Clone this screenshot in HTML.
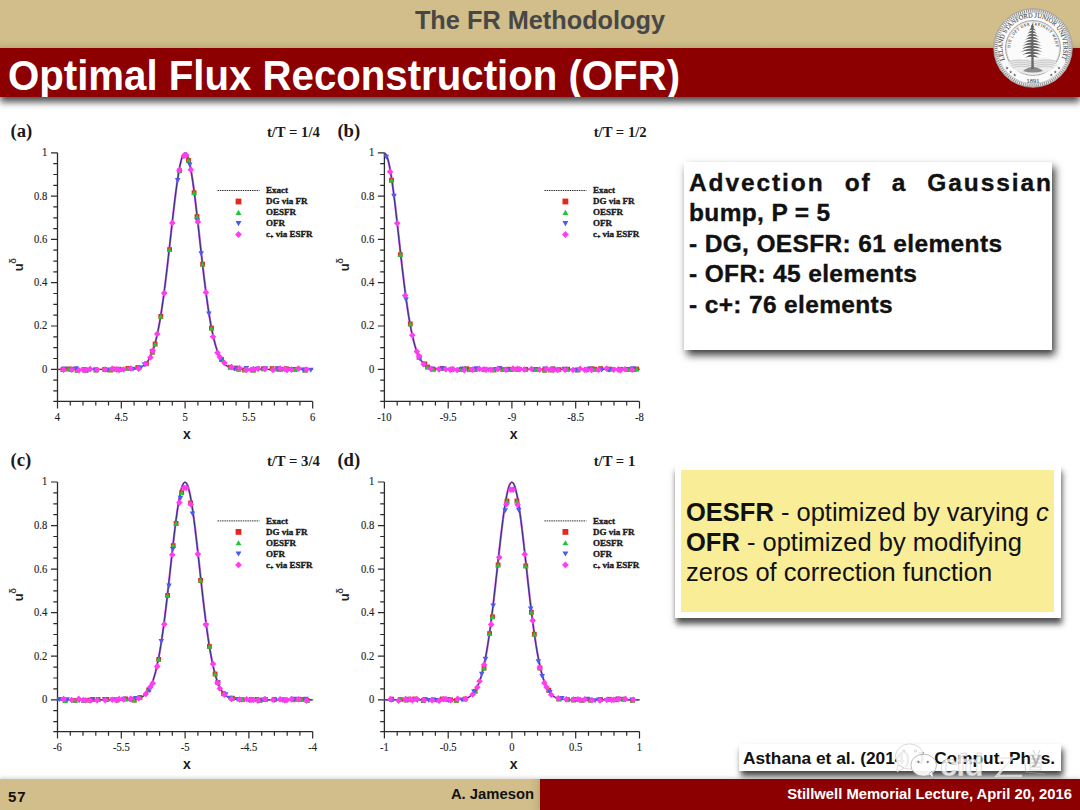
<!DOCTYPE html>
<html><head><meta charset="utf-8">
<style>
html,body{margin:0;padding:0;}
body{width:1080px;height:810px;position:relative;overflow:hidden;background:#fff;font-family:"Liberation Sans", sans-serif;}
.abs{position:absolute;}
#topband{left:0;top:0;width:1080px;height:48px;background:linear-gradient(to bottom,#d1be8a 0px,#d1be8a 40px,#c4b580 48px);}
#toptitle{left:0;top:5.3px;width:1080px;text-align:center;font-weight:bold;font-size:25.3px;color:#474747;line-height:30px;}
#redband{left:0;top:48px;width:1080px;height:49px;background:#8c0001;box-shadow:0 5px 7px rgba(0,0,0,0.7);overflow:hidden;}
#title{left:8px;top:4px;font-weight:bold;font-size:40.2px;color:#fff;line-height:46px;white-space:nowrap;transform:scaleY(1.065);transform-origin:0 7.6px;}
#plots{left:0;top:0;}
.tl{font-family:"Liberation Serif", serif;font-size:12.2px;fill:#1e1e1e;stroke:#1e1e1e;stroke-width:0.15px;}
.xl{font-family:"Liberation Sans", sans-serif;font-weight:bold;font-size:14px;fill:#1a1a1a;}
.yl{font-family:"Liberation Sans", sans-serif;font-weight:bold;font-size:13px;fill:#222;}
.sup{font-size:9.5px;fill:#444;}
.sub{font-size:6px;}
.pl{font-family:"Liberation Serif", serif;font-weight:bold;font-size:18.7px;fill:#1a1a1a;}
.pt{font-family:"Liberation Serif", serif;font-weight:bold;font-size:14.7px;fill:#1a1a1a;}
.lg{font-family:"Liberation Serif", serif;font-weight:bold;font-size:9px;fill:#1a1a1a;stroke:#1a1a1a;stroke-width:0.35px;}
#box1{left:684px;top:162px;width:368px;height:188px;background:#fff;box-shadow:3px 5px 8px rgba(0,0,0,0.78);}
#box1 .t{position:absolute;left:5px;top:5.7px;-webkit-text-stroke:0.35px #111;width:365px;font-weight:bold;font-size:24.5px;letter-spacing:0.35px;line-height:30.5px;color:#111;white-space:nowrap;}
#box2o{left:675px;top:465px;width:386px;height:153px;background:#fff;box-shadow:1px 6px 6px rgba(0,0,0,0.68);}
#box2{left:681px;top:470px;width:373px;height:141.5px;background:#f9ee97;}
#box2 .t{position:absolute;left:5px;top:27px;font-size:25.5px;line-height:30px;color:#111;white-space:nowrap;}
#cite{left:739px;top:744px;width:322px;height:27px;background:#fff;box-shadow:2px 5px 6px rgba(0,0,0,0.75);}
#cite .t{position:absolute;left:4px;top:4px;font-weight:bold;font-size:17.3px;line-height:20px;color:#111;white-space:nowrap;}
#botl{left:0;top:779px;width:540px;height:31px;background:linear-gradient(to right,#d1be8a 0px,#d1be8a 530px,#c2b27e 540px);box-shadow:0 -2px 3px rgba(0,0,0,0.12);}
#botr{left:540px;top:779px;width:540px;height:31px;background:#8c0001;box-shadow:0 -2px 3px rgba(0,0,0,0.12);}
#pgnum{left:8px;top:788px;font-weight:bold;font-size:15px;letter-spacing:0.8px;color:#111;}
#author{left:300px;top:786px;width:234px;text-align:right;font-weight:bold;font-size:14.8px;color:#111;}
#lecture{left:600px;top:786px;width:472px;text-align:right;font-weight:bold;font-size:14.8px;color:#fff;}
</style></head><body>
<div id="topband" class="abs"></div>
<div id="toptitle" class="abs">The FR Methodology</div>
<svg id="plots" class="abs" width="1080" height="810" viewBox="0 0 1080 810">
<path d="M57.5,152.8V401.4H312.7" fill="none" stroke="#2b2b2b" stroke-width="1.3"/>
<path d="M53.3,401.4H57.5M53.3,390.9H57.5M53.3,380.1H57.5M51.0,369.3H57.5M53.3,358.5H57.5M53.3,347.7H57.5M53.3,336.8H57.5M51.0,326.0H57.5M53.3,315.2H57.5M53.3,304.4H57.5M53.3,293.5H57.5M51.0,282.7H57.5M53.3,271.9H57.5M53.3,261.1H57.5M53.3,250.2H57.5M51.0,239.4H57.5M53.3,228.6H57.5M53.3,217.8H57.5M53.3,206.9H57.5M51.0,196.1H57.5M53.3,185.3H57.5M53.3,174.5H57.5M53.3,163.6H57.5M51.0,152.8H57.5M57.5,401.4V408.4M70.3,401.4V405.6M83.0,401.4V405.6M95.8,401.4V405.6M108.5,401.4V405.6M121.3,401.4V408.4M134.1,401.4V405.6M146.8,401.4V405.6M159.6,401.4V405.6M172.3,401.4V405.6M185.1,401.4V408.4M197.9,401.4V405.6M210.6,401.4V405.6M223.4,401.4V405.6M236.1,401.4V405.6M248.9,401.4V408.4M261.7,401.4V405.6M274.4,401.4V405.6M287.2,401.4V405.6M299.9,401.4V405.6M312.7,401.4V408.4" fill="none" stroke="#2b2b2b" stroke-width="1.2"/>
<text transform="translate(47.3,372.7) scale(0.87,1)" text-anchor="end" class="tl">0</text>
<text transform="translate(47.3,329.4) scale(0.87,1)" text-anchor="end" class="tl">0.2</text>
<text transform="translate(47.3,286.1) scale(0.87,1)" text-anchor="end" class="tl">0.4</text>
<text transform="translate(47.3,242.8) scale(0.87,1)" text-anchor="end" class="tl">0.6</text>
<text transform="translate(47.3,199.5) scale(0.87,1)" text-anchor="end" class="tl">0.8</text>
<text transform="translate(47.3,156.2) scale(0.87,1)" text-anchor="end" class="tl">1</text>
<text transform="translate(57.5,421.2) scale(0.87,1)" text-anchor="middle" class="tl">4</text>
<text transform="translate(121.3,421.2) scale(0.87,1)" text-anchor="middle" class="tl">4.5</text>
<text transform="translate(185.1,421.2) scale(0.87,1)" text-anchor="middle" class="tl">5</text>
<text transform="translate(248.9,421.2) scale(0.87,1)" text-anchor="middle" class="tl">5.5</text>
<text transform="translate(312.7,421.2) scale(0.87,1)" text-anchor="middle" class="tl">6</text>
<text x="186.8" y="438.7" text-anchor="middle" class="xl">x</text>
<text transform="translate(22.5,264.7) rotate(-90)" text-anchor="middle" class="yl">u<tspan class="sup" dy="-6.5" dx="-0.5">δ</tspan></text>
<text x="10.5" y="136.8" class="pl">(a)</text>
<text x="266.9" y="136.8" class="pt">t/T = 1/4</text>
<path id="cva" d="M57.50,369.30L58.78,369.30L60.05,369.30L61.33,369.30L62.60,369.30L63.88,369.30L65.16,369.30L66.43,369.30L67.71,369.30L68.98,369.30L70.26,369.30L71.54,369.30L72.81,369.30L74.09,369.30L75.36,369.30L76.64,369.30L77.92,369.30L79.19,369.30L80.47,369.30L81.74,369.30L83.02,369.30L84.30,369.30L85.57,369.30L86.85,369.30L88.12,369.30L89.40,369.30L90.68,369.30L91.95,369.30L93.23,369.30L94.50,369.30L95.78,369.30L97.06,369.30L98.33,369.30L99.61,369.30L100.88,369.30L102.16,369.30L103.44,369.30L104.71,369.30L105.99,369.30L107.26,369.30L108.54,369.30L109.82,369.30L111.09,369.30L112.37,369.30L113.64,369.30L114.92,369.30L116.20,369.30L117.47,369.30L118.75,369.29L120.02,369.29L121.30,369.29L122.58,369.28L123.85,369.27L125.13,369.26L126.40,369.24L127.68,369.21L128.96,369.17L130.23,369.12L131.51,369.06L132.78,368.96L134.06,368.84L135.34,368.68L136.61,368.46L137.89,368.18L139.16,367.82L140.44,367.36L141.72,366.77L142.99,366.02L144.27,365.09L145.54,363.93L146.82,362.51L148.10,360.78L149.37,358.70L150.65,356.20L151.92,353.23L153.20,349.75L154.48,345.69L155.75,341.01L157.03,335.67L158.30,329.62L159.58,322.84L160.86,315.32L162.13,307.06L163.41,298.08L164.68,288.44L165.96,278.20L167.24,267.45L168.51,256.30L169.79,244.89L171.06,233.38L172.34,221.94L173.62,210.77L174.89,200.05L176.17,190.00L177.44,180.80L178.72,172.65L180.00,165.73L181.27,160.17L182.55,156.11L183.82,153.63L185.10,152.80L186.38,153.63L187.65,156.11L188.93,160.17L190.20,165.73L191.48,172.65L192.76,180.80L194.03,190.00L195.31,200.05L196.58,210.77L197.86,221.94L199.14,233.38L200.41,244.89L201.69,256.30L202.96,267.45L204.24,278.20L205.52,288.44L206.79,298.08L208.07,307.06L209.34,315.32L210.62,322.84L211.90,329.62L213.17,335.67L214.45,341.01L215.72,345.69L217.00,349.75L218.28,353.23L219.55,356.20L220.83,358.70L222.10,360.78L223.38,362.51L224.66,363.93L225.93,365.09L227.21,366.02L228.48,366.77L229.76,367.36L231.04,367.82L232.31,368.18L233.59,368.46L234.86,368.68L236.14,368.84L237.42,368.96L238.69,369.06L239.97,369.12L241.24,369.17L242.52,369.21L243.80,369.24L245.07,369.26L246.35,369.27L247.62,369.28L248.90,369.29L250.18,369.29L251.45,369.29L252.73,369.30L254.00,369.30L255.28,369.30L256.56,369.30L257.83,369.30L259.11,369.30L260.38,369.30L261.66,369.30L262.94,369.30L264.21,369.30L265.49,369.30L266.76,369.30L268.04,369.30L269.32,369.30L270.59,369.30L271.87,369.30L273.14,369.30L274.42,369.30L275.70,369.30L276.97,369.30L278.25,369.30L279.52,369.30L280.80,369.30L282.08,369.30L283.35,369.30L284.63,369.30L285.90,369.30L287.18,369.30L288.46,369.30L289.73,369.30L291.01,369.30L292.28,369.30L293.56,369.30L294.84,369.30L296.11,369.30L297.39,369.30L298.66,369.30L299.94,369.30L301.22,369.30L302.49,369.30L303.77,369.30L305.04,369.30L306.32,369.30L307.60,369.30L308.87,369.30L310.15,369.30L311.42,369.30L312.70,369.30" fill="none"/>
<use href="#cva" transform="translate(-0.6,0)" stroke="#ff40f0" stroke-width="1.1" opacity="0.9"/>
<use href="#cva" transform="translate(0.6,0)" stroke="#9040b0" stroke-width="1.0" opacity="0.7"/>
<use href="#cva" transform="translate(-0.3,0.3)" stroke="#4a5cf0" stroke-width="1.0" opacity="0.9"/>
<use href="#cva" stroke="#1a1a2a" stroke-width="0.7"/>
<rect x="60.6" y="367.2" width="4.8" height="4.8" fill="#e8261c"/>
<path d="M60.3,371.9L63.0,367.0L65.7,371.9Z" fill="#22c43a"/>
<rect x="66.2" y="366.6" width="4.8" height="4.8" fill="#e8261c"/>
<path d="M65.9,371.3L68.6,366.4L71.3,371.3Z" fill="#22c43a"/>
<rect x="69.1" y="366.8" width="4.8" height="4.8" fill="#e8261c"/>
<path d="M68.8,371.5L71.5,366.6L74.2,371.5Z" fill="#22c43a"/>
<rect x="74.7" y="367.7" width="4.8" height="4.8" fill="#e8261c"/>
<path d="M74.4,372.4L77.1,367.5L79.8,372.4Z" fill="#22c43a"/>
<rect x="83.6" y="367.7" width="4.8" height="4.8" fill="#e8261c"/>
<path d="M83.3,372.4L86.0,367.5L88.7,372.4Z" fill="#22c43a"/>
<rect x="93.6" y="367.6" width="4.8" height="4.8" fill="#e8261c"/>
<path d="M93.3,372.3L96.0,367.4L98.7,372.3Z" fill="#22c43a"/>
<rect x="102.4" y="367.0" width="4.8" height="4.8" fill="#e8261c"/>
<path d="M102.1,371.7L104.8,366.8L107.5,371.7Z" fill="#22c43a"/>
<rect x="108.1" y="367.6" width="4.8" height="4.8" fill="#e8261c"/>
<path d="M107.8,372.3L110.5,367.4L113.2,372.3Z" fill="#22c43a"/>
<rect x="110.9" y="366.7" width="4.8" height="4.8" fill="#e8261c"/>
<path d="M110.6,371.4L113.3,366.5L116.0,371.4Z" fill="#22c43a"/>
<rect x="116.6" y="366.8" width="4.8" height="4.8" fill="#e8261c"/>
<path d="M116.3,371.5L119.0,366.6L121.7,371.5Z" fill="#22c43a"/>
<rect x="125.4" y="366.0" width="4.8" height="4.8" fill="#e8261c"/>
<path d="M125.1,370.7L127.8,365.8L130.5,370.7Z" fill="#22c43a"/>
<rect x="135.4" y="365.2" width="4.8" height="4.8" fill="#e8261c"/>
<path d="M135.1,369.9L137.8,365.0L140.5,369.9Z" fill="#22c43a"/>
<rect x="144.2" y="361.3" width="4.8" height="4.8" fill="#e8261c"/>
<path d="M143.9,366.0L146.6,361.1L149.3,366.0Z" fill="#22c43a"/>
<rect x="149.9" y="349.8" width="4.8" height="4.8" fill="#e8261c"/>
<path d="M149.6,354.5L152.3,349.6L155.0,354.5Z" fill="#22c43a"/>
<rect x="152.7" y="341.6" width="4.8" height="4.8" fill="#e8261c"/>
<path d="M152.4,346.3L155.1,341.4L157.8,346.3Z" fill="#22c43a"/>
<rect x="158.4" y="314.0" width="4.8" height="4.8" fill="#e8261c"/>
<path d="M158.1,318.7L160.8,313.8L163.5,318.7Z" fill="#22c43a"/>
<rect x="167.2" y="247.2" width="4.8" height="4.8" fill="#e8261c"/>
<path d="M166.9,251.9L169.6,247.0L172.3,251.9Z" fill="#22c43a"/>
<rect x="177.2" y="168.4" width="4.8" height="4.8" fill="#e8261c"/>
<path d="M176.9,173.1L179.6,168.2L182.3,173.1Z" fill="#22c43a"/>
<rect x="186.1" y="158.0" width="4.8" height="4.8" fill="#e8261c"/>
<path d="M185.8,162.7L188.5,157.8L191.2,162.7Z" fill="#22c43a"/>
<rect x="191.7" y="190.3" width="4.8" height="4.8" fill="#e8261c"/>
<path d="M191.4,195.0L194.1,190.1L196.8,195.0Z" fill="#22c43a"/>
<rect x="194.6" y="214.2" width="4.8" height="4.8" fill="#e8261c"/>
<path d="M194.3,218.9L197.0,214.0L199.7,218.9Z" fill="#22c43a"/>
<rect x="200.2" y="261.8" width="4.8" height="4.8" fill="#e8261c"/>
<path d="M199.9,266.5L202.6,261.6L205.3,266.5Z" fill="#22c43a"/>
<rect x="209.1" y="325.7" width="4.8" height="4.8" fill="#e8261c"/>
<path d="M208.8,330.4L211.5,325.5L214.2,330.4Z" fill="#22c43a"/>
<rect x="219.1" y="357.1" width="4.8" height="4.8" fill="#e8261c"/>
<path d="M218.8,361.8L221.5,356.9L224.2,361.8Z" fill="#22c43a"/>
<rect x="227.9" y="364.8" width="4.8" height="4.8" fill="#e8261c"/>
<path d="M227.6,369.5L230.3,364.6L233.0,369.5Z" fill="#22c43a"/>
<rect x="233.6" y="365.6" width="4.8" height="4.8" fill="#e8261c"/>
<path d="M233.3,370.3L236.0,365.4L238.7,370.3Z" fill="#22c43a"/>
<rect x="236.4" y="366.8" width="4.8" height="4.8" fill="#e8261c"/>
<path d="M236.1,371.5L238.8,366.6L241.5,371.5Z" fill="#22c43a"/>
<rect x="242.1" y="367.5" width="4.8" height="4.8" fill="#e8261c"/>
<path d="M241.8,372.2L244.5,367.3L247.2,372.2Z" fill="#22c43a"/>
<rect x="250.9" y="367.7" width="4.8" height="4.8" fill="#e8261c"/>
<path d="M250.6,372.4L253.3,367.5L256.0,372.4Z" fill="#22c43a"/>
<rect x="260.9" y="366.4" width="4.8" height="4.8" fill="#e8261c"/>
<path d="M260.6,371.1L263.3,366.2L266.0,371.1Z" fill="#22c43a"/>
<rect x="269.7" y="366.2" width="4.8" height="4.8" fill="#e8261c"/>
<path d="M269.4,370.9L272.1,366.0L274.8,370.9Z" fill="#22c43a"/>
<rect x="275.4" y="366.6" width="4.8" height="4.8" fill="#e8261c"/>
<path d="M275.1,371.3L277.8,366.4L280.5,371.3Z" fill="#22c43a"/>
<rect x="278.2" y="366.8" width="4.8" height="4.8" fill="#e8261c"/>
<path d="M277.9,371.5L280.6,366.6L283.3,371.5Z" fill="#22c43a"/>
<rect x="283.9" y="366.3" width="4.8" height="4.8" fill="#e8261c"/>
<path d="M283.6,371.0L286.3,366.1L289.0,371.0Z" fill="#22c43a"/>
<rect x="292.8" y="366.9" width="4.8" height="4.8" fill="#e8261c"/>
<path d="M292.5,371.6L295.2,366.7L297.9,371.6Z" fill="#22c43a"/>
<rect x="302.7" y="367.7" width="4.8" height="4.8" fill="#e8261c"/>
<path d="M302.4,372.4L305.1,367.5L307.8,372.4Z" fill="#22c43a"/>
<path d="M61.5,366.6L67.1,366.6L64.3,371.6Z" fill="#4a5cf0"/>
<path d="M73.4,366.3L79.0,366.3L76.2,371.3Z" fill="#4a5cf0"/>
<path d="M81.1,367.1L86.7,367.1L83.9,372.1Z" fill="#4a5cf0"/>
<path d="M85.0,367.7L90.6,367.7L87.8,372.7Z" fill="#4a5cf0"/>
<path d="M92.7,367.5L98.3,367.5L95.5,372.5Z" fill="#4a5cf0"/>
<path d="M104.6,367.7L110.2,367.7L107.4,372.7Z" fill="#4a5cf0"/>
<path d="M118.2,367.5L123.8,367.5L121.0,372.5Z" fill="#4a5cf0"/>
<path d="M130.2,366.7L135.8,366.7L133.0,371.7Z" fill="#4a5cf0"/>
<path d="M137.9,365.6L143.5,365.6L140.7,370.6Z" fill="#4a5cf0"/>
<path d="M141.7,362.3L147.3,362.3L144.5,367.3Z" fill="#4a5cf0"/>
<path d="M149.4,349.2L155.0,349.2L152.2,354.2Z" fill="#4a5cf0"/>
<path d="M161.4,291.7L167.0,291.7L164.2,296.7Z" fill="#4a5cf0"/>
<path d="M174.9,178.0L180.5,178.0L177.7,183.0Z" fill="#4a5cf0"/>
<path d="M186.9,162.4L192.5,162.4L189.7,167.4Z" fill="#4a5cf0"/>
<path d="M194.6,218.4L200.2,218.4L197.4,223.4Z" fill="#4a5cf0"/>
<path d="M198.4,251.2L204.0,251.2L201.2,256.2Z" fill="#4a5cf0"/>
<path d="M206.1,311.4L211.7,311.4L208.9,316.4Z" fill="#4a5cf0"/>
<path d="M218.1,357.4L223.7,357.4L220.9,362.4Z" fill="#4a5cf0"/>
<path d="M231.6,366.4L237.2,366.4L234.4,371.4Z" fill="#4a5cf0"/>
<path d="M243.6,366.1L249.2,366.1L246.4,371.1Z" fill="#4a5cf0"/>
<path d="M251.3,366.9L256.9,366.9L254.1,371.9Z" fill="#4a5cf0"/>
<path d="M255.1,366.6L260.7,366.6L257.9,371.6Z" fill="#4a5cf0"/>
<path d="M262.8,366.2L268.4,366.2L265.6,371.2Z" fill="#4a5cf0"/>
<path d="M274.8,366.3L280.4,366.3L277.6,371.3Z" fill="#4a5cf0"/>
<path d="M288.3,367.1L293.9,367.1L291.1,372.1Z" fill="#4a5cf0"/>
<path d="M300.3,367.6L305.9,367.6L303.1,372.6Z" fill="#4a5cf0"/>
<path d="M308.0,367.7L313.6,367.7L310.8,372.7Z" fill="#4a5cf0"/>
<path d="M63.6,366.5L66.9,369.8L63.6,373.1L60.3,369.8Z" fill="#ff3cf0"/>
<path d="M71.6,366.3L74.9,369.6L71.6,372.9L68.3,369.6Z" fill="#ff3cf0"/>
<path d="M78.7,366.9L82.0,370.2L78.7,373.5L75.4,370.2Z" fill="#ff3cf0"/>
<path d="M83.2,366.7L86.5,370.0L83.2,373.3L79.9,370.0Z" fill="#ff3cf0"/>
<path d="M85.5,366.8L88.8,370.1L85.5,373.4L82.2,370.1Z" fill="#ff3cf0"/>
<path d="M90.1,365.8L93.4,369.1L90.1,372.4L86.8,369.1Z" fill="#ff3cf0"/>
<path d="M97.1,366.4L100.4,369.7L97.1,373.0L93.8,369.7Z" fill="#ff3cf0"/>
<path d="M105.2,366.2L108.5,369.5L105.2,372.8L101.9,369.5Z" fill="#ff3cf0"/>
<path d="M112.3,365.4L115.6,368.7L112.3,372.0L109.0,368.7Z" fill="#ff3cf0"/>
<path d="M116.8,366.1L120.1,369.4L116.8,372.7L113.5,369.4Z" fill="#ff3cf0"/>
<path d="M119.1,366.7L122.4,370.0L119.1,373.3L115.8,370.0Z" fill="#ff3cf0"/>
<path d="M123.6,366.2L126.9,369.5L123.6,372.8L120.3,369.5Z" fill="#ff3cf0"/>
<path d="M130.7,365.2L134.0,368.5L130.7,371.8L127.4,368.5Z" fill="#ff3cf0"/>
<path d="M138.7,365.4L142.0,368.7L138.7,372.0L135.4,368.7Z" fill="#ff3cf0"/>
<path d="M145.8,360.5L149.1,363.8L145.8,367.1L142.5,363.8Z" fill="#ff3cf0"/>
<path d="M150.4,354.1L153.7,357.4L150.4,360.7L147.1,357.4Z" fill="#ff3cf0"/>
<path d="M152.7,347.3L156.0,350.6L152.7,353.9L149.4,350.6Z" fill="#ff3cf0"/>
<path d="M157.2,330.7L160.5,334.0L157.2,337.3L153.9,334.0Z" fill="#ff3cf0"/>
<path d="M164.3,289.9L167.6,293.2L164.3,296.5L161.0,293.2Z" fill="#ff3cf0"/>
<path d="M172.3,219.6L175.6,222.9L172.3,226.2L169.0,222.9Z" fill="#ff3cf0"/>
<path d="M179.4,167.0L182.7,170.3L179.4,173.6L176.1,170.3Z" fill="#ff3cf0"/>
<path d="M184.0,152.6L187.3,155.9L184.0,159.2L180.7,155.9Z" fill="#ff3cf0"/>
<path d="M186.2,151.7L189.5,155.0L186.2,158.3L182.9,155.0Z" fill="#ff3cf0"/>
<path d="M190.8,166.4L194.1,169.7L190.8,173.0L187.5,169.7Z" fill="#ff3cf0"/>
<path d="M197.9,218.6L201.2,221.9L197.9,225.2L194.6,221.9Z" fill="#ff3cf0"/>
<path d="M205.9,289.2L209.2,292.5L205.9,295.8L202.6,292.5Z" fill="#ff3cf0"/>
<path d="M213.0,333.5L216.3,336.8L213.0,340.1L209.7,336.8Z" fill="#ff3cf0"/>
<path d="M217.5,349.4L220.8,352.7L217.5,356.0L214.2,352.7Z" fill="#ff3cf0"/>
<path d="M219.8,353.8L223.1,357.1L219.8,360.4L216.5,357.1Z" fill="#ff3cf0"/>
<path d="M224.4,359.6L227.7,362.9L224.4,366.2L221.1,362.9Z" fill="#ff3cf0"/>
<path d="M231.5,363.8L234.8,367.1L231.5,370.4L228.2,367.1Z" fill="#ff3cf0"/>
<path d="M239.5,365.0L242.8,368.3L239.5,371.6L236.2,368.3Z" fill="#ff3cf0"/>
<path d="M246.6,366.5L249.9,369.8L246.6,373.1L243.3,369.8Z" fill="#ff3cf0"/>
<path d="M251.1,366.5L254.4,369.8L251.1,373.1L247.8,369.8Z" fill="#ff3cf0"/>
<path d="M253.4,365.8L256.7,369.1L253.4,372.4L250.1,369.1Z" fill="#ff3cf0"/>
<path d="M257.9,365.4L261.2,368.7L257.9,372.0L254.6,368.7Z" fill="#ff3cf0"/>
<path d="M265.0,365.7L268.3,369.0L265.0,372.3L261.7,369.0Z" fill="#ff3cf0"/>
<path d="M273.1,366.7L276.4,370.0L273.1,373.3L269.8,370.0Z" fill="#ff3cf0"/>
<path d="M280.1,365.3L283.4,368.6L280.1,371.9L276.8,368.6Z" fill="#ff3cf0"/>
<path d="M284.7,365.6L288.0,368.9L284.7,372.2L281.4,368.9Z" fill="#ff3cf0"/>
<path d="M287.0,366.6L290.3,369.9L287.0,373.2L283.7,369.9Z" fill="#ff3cf0"/>
<path d="M291.5,366.3L294.8,369.6L291.5,372.9L288.2,369.6Z" fill="#ff3cf0"/>
<path d="M298.6,365.2L301.9,368.5L298.6,371.8L295.3,368.5Z" fill="#ff3cf0"/>
<path d="M306.6,366.2L309.9,369.5L306.6,372.8L303.3,369.5Z" fill="#ff3cf0"/>
<line x1="217.5" y1="190.5" x2="259.5" y2="190.5" stroke="#333" stroke-width="1" stroke-dasharray="1.5,0.8"/>
<text x="266.0" y="193.3" class="lg">Exact</text>
<text x="266.0" y="204.3" class="lg">DG via FR</text>
<text x="266.0" y="215.3" class="lg">OESFR</text>
<text x="266.0" y="226.3" class="lg">OFR</text>
<text x="266.0" y="237.3" class="lg">c<tspan class="sub" dy="2">+</tspan><tspan dy="-2"> via ESFR</tspan></text>
<rect x="235.6" y="198.6" width="5.8" height="5.8" fill="#e8261c"/>
<path d="M235.5,214.9L238.5,209.8L241.5,214.9Z" fill="#22c43a"/>
<path d="M235.5,221.1L241.5,221.1L238.5,226.2Z" fill="#4a5cf0"/>
<path d="M238.5,231.1L241.9,234.5L238.5,237.9L235.1,234.5Z" fill="#ff3cf0"/>
<path d="M384.4,152.8V401.4H639.5" fill="none" stroke="#2b2b2b" stroke-width="1.3"/>
<path d="M380.2,401.4H384.4M380.2,390.9H384.4M380.2,380.1H384.4M377.9,369.3H384.4M380.2,358.5H384.4M380.2,347.7H384.4M380.2,336.8H384.4M377.9,326.0H384.4M380.2,315.2H384.4M380.2,304.4H384.4M380.2,293.5H384.4M377.9,282.7H384.4M380.2,271.9H384.4M380.2,261.1H384.4M380.2,250.2H384.4M377.9,239.4H384.4M380.2,228.6H384.4M380.2,217.8H384.4M380.2,206.9H384.4M377.9,196.1H384.4M380.2,185.3H384.4M380.2,174.5H384.4M380.2,163.6H384.4M377.9,152.8H384.4M384.4,401.4V408.4M397.2,401.4V405.6M409.9,401.4V405.6M422.7,401.4V405.6M435.4,401.4V405.6M448.2,401.4V408.4M460.9,401.4V405.6M473.7,401.4V405.6M486.4,401.4V405.6M499.2,401.4V405.6M511.9,401.4V408.4M524.7,401.4V405.6M537.5,401.4V405.6M550.2,401.4V405.6M563.0,401.4V405.6M575.7,401.4V408.4M588.5,401.4V405.6M601.2,401.4V405.6M614.0,401.4V405.6M626.7,401.4V405.6M639.5,401.4V408.4" fill="none" stroke="#2b2b2b" stroke-width="1.2"/>
<text transform="translate(374.2,372.7) scale(0.87,1)" text-anchor="end" class="tl">0</text>
<text transform="translate(374.2,329.4) scale(0.87,1)" text-anchor="end" class="tl">0.2</text>
<text transform="translate(374.2,286.1) scale(0.87,1)" text-anchor="end" class="tl">0.4</text>
<text transform="translate(374.2,242.8) scale(0.87,1)" text-anchor="end" class="tl">0.6</text>
<text transform="translate(374.2,199.5) scale(0.87,1)" text-anchor="end" class="tl">0.8</text>
<text transform="translate(374.2,156.2) scale(0.87,1)" text-anchor="end" class="tl">1</text>
<text transform="translate(384.4,421.2) scale(0.87,1)" text-anchor="middle" class="tl">-10</text>
<text transform="translate(448.2,421.2) scale(0.87,1)" text-anchor="middle" class="tl">-9.5</text>
<text transform="translate(511.9,421.2) scale(0.87,1)" text-anchor="middle" class="tl">-9</text>
<text transform="translate(575.7,421.2) scale(0.87,1)" text-anchor="middle" class="tl">-8.5</text>
<text transform="translate(639.5,421.2) scale(0.87,1)" text-anchor="middle" class="tl">-8</text>
<text x="513.6" y="438.7" text-anchor="middle" class="xl">x</text>
<text transform="translate(349.4,264.7) rotate(-90)" text-anchor="middle" class="yl">u<tspan class="sup" dy="-6.5" dx="-0.5">δ</tspan></text>
<text x="337.4" y="136.8" class="pl">(b)</text>
<text x="593.7" y="136.8" class="pt">t/T = 1/2</text>
<path id="cvb" d="M384.40,152.80L385.68,153.63L386.95,156.11L388.23,160.17L389.50,165.73L390.78,172.65L392.05,180.80L393.33,190.00L394.60,200.05L395.88,210.77L397.15,221.94L398.43,233.38L399.71,244.89L400.98,256.30L402.26,267.45L403.53,278.20L404.81,288.44L406.08,298.08L407.36,307.06L408.63,315.32L409.91,322.84L411.19,329.62L412.46,335.67L413.74,341.01L415.01,345.69L416.29,349.75L417.56,353.23L418.84,356.20L420.11,358.70L421.39,360.78L422.67,362.51L423.94,363.93L425.22,365.09L426.49,366.02L427.77,366.77L429.04,367.36L430.32,367.82L431.59,368.18L432.87,368.46L434.14,368.68L435.42,368.84L436.70,368.96L437.97,369.06L439.25,369.12L440.52,369.17L441.80,369.21L443.07,369.24L444.35,369.26L445.62,369.27L446.90,369.28L448.17,369.29L449.45,369.29L450.73,369.29L452.00,369.30L453.28,369.30L454.55,369.30L455.83,369.30L457.10,369.30L458.38,369.30L459.65,369.30L460.93,369.30L462.21,369.30L463.48,369.30L464.76,369.30L466.03,369.30L467.31,369.30L468.58,369.30L469.86,369.30L471.13,369.30L472.41,369.30L473.68,369.30L474.96,369.30L476.24,369.30L477.51,369.30L478.79,369.30L480.06,369.30L481.34,369.30L482.61,369.30L483.89,369.30L485.16,369.30L486.44,369.30L487.72,369.30L488.99,369.30L490.27,369.30L491.54,369.30L492.82,369.30L494.09,369.30L495.37,369.30L496.64,369.30L497.92,369.30L499.20,369.30L500.47,369.30L501.75,369.30L503.02,369.30L504.30,369.30L505.57,369.30L506.85,369.30L508.12,369.30L509.40,369.30L510.67,369.30L511.95,369.30L513.23,369.30L514.50,369.30L515.78,369.30L517.05,369.30L518.33,369.30L519.60,369.30L520.88,369.30L522.15,369.30L523.43,369.30L524.70,369.30L525.98,369.30L527.26,369.30L528.53,369.30L529.81,369.30L531.08,369.30L532.36,369.30L533.63,369.30L534.91,369.30L536.18,369.30L537.46,369.30L538.74,369.30L540.01,369.30L541.29,369.30L542.56,369.30L543.84,369.30L545.11,369.30L546.39,369.30L547.66,369.30L548.94,369.30L550.22,369.30L551.49,369.30L552.77,369.30L554.04,369.30L555.32,369.30L556.59,369.30L557.87,369.30L559.14,369.30L560.42,369.30L561.69,369.30L562.97,369.30L564.25,369.30L565.52,369.30L566.80,369.30L568.07,369.30L569.35,369.30L570.62,369.30L571.90,369.30L573.17,369.30L574.45,369.30L575.73,369.30L577.00,369.30L578.28,369.30L579.55,369.30L580.83,369.30L582.10,369.30L583.38,369.30L584.65,369.30L585.93,369.30L587.20,369.30L588.48,369.30L589.76,369.30L591.03,369.30L592.31,369.30L593.58,369.30L594.86,369.30L596.13,369.30L597.41,369.30L598.68,369.30L599.96,369.30L601.23,369.30L602.51,369.30L603.79,369.30L605.06,369.30L606.34,369.30L607.61,369.30L608.89,369.30L610.16,369.30L611.44,369.30L612.71,369.30L613.99,369.30L615.27,369.30L616.54,369.30L617.82,369.30L619.09,369.30L620.37,369.30L621.64,369.30L622.92,369.30L624.19,369.30L625.47,369.30L626.75,369.30L628.02,369.30L629.30,369.30L630.57,369.30L631.85,369.30L633.12,369.30L634.40,369.30L635.67,369.30L636.95,369.30L638.22,369.30L639.50,369.30" fill="none"/>
<use href="#cvb" transform="translate(-0.6,0)" stroke="#ff40f0" stroke-width="1.1" opacity="0.9"/>
<use href="#cvb" transform="translate(0.6,0)" stroke="#9040b0" stroke-width="1.0" opacity="0.7"/>
<use href="#cvb" transform="translate(-0.3,0.3)" stroke="#4a5cf0" stroke-width="1.0" opacity="0.9"/>
<use href="#cvb" stroke="#1a1a2a" stroke-width="0.7"/>
<rect x="389.1" y="177.8" width="4.8" height="4.8" fill="#e8261c"/>
<path d="M388.8,182.5L391.5,177.6L394.2,182.5Z" fill="#22c43a"/>
<rect x="397.9" y="252.3" width="4.8" height="4.8" fill="#e8261c"/>
<path d="M397.6,257.0L400.3,252.1L403.0,257.0Z" fill="#22c43a"/>
<rect x="407.9" y="321.5" width="4.8" height="4.8" fill="#e8261c"/>
<path d="M407.6,326.2L410.3,321.3L413.0,326.2Z" fill="#22c43a"/>
<rect x="416.7" y="354.8" width="4.8" height="4.8" fill="#e8261c"/>
<path d="M416.4,359.5L419.1,354.6L421.8,359.5Z" fill="#22c43a"/>
<rect x="422.4" y="361.5" width="4.8" height="4.8" fill="#e8261c"/>
<path d="M422.1,366.2L424.8,361.3L427.5,366.2Z" fill="#22c43a"/>
<rect x="425.2" y="364.6" width="4.8" height="4.8" fill="#e8261c"/>
<path d="M424.9,369.3L427.6,364.4L430.3,369.3Z" fill="#22c43a"/>
<rect x="430.9" y="366.8" width="4.8" height="4.8" fill="#e8261c"/>
<path d="M430.6,371.5L433.3,366.6L436.0,371.5Z" fill="#22c43a"/>
<rect x="439.7" y="366.0" width="4.8" height="4.8" fill="#e8261c"/>
<path d="M439.4,370.7L442.1,365.8L444.8,370.7Z" fill="#22c43a"/>
<rect x="449.7" y="366.8" width="4.8" height="4.8" fill="#e8261c"/>
<path d="M449.4,371.5L452.1,366.6L454.8,371.5Z" fill="#22c43a"/>
<rect x="458.6" y="367.0" width="4.8" height="4.8" fill="#e8261c"/>
<path d="M458.3,371.7L461.0,366.8L463.7,371.7Z" fill="#22c43a"/>
<rect x="464.2" y="366.3" width="4.8" height="4.8" fill="#e8261c"/>
<path d="M463.9,371.0L466.6,366.1L469.3,371.0Z" fill="#22c43a"/>
<rect x="467.1" y="367.3" width="4.8" height="4.8" fill="#e8261c"/>
<path d="M466.8,372.0L469.5,367.1L472.2,372.0Z" fill="#22c43a"/>
<rect x="472.7" y="367.3" width="4.8" height="4.8" fill="#e8261c"/>
<path d="M472.4,372.0L475.1,367.1L477.8,372.0Z" fill="#22c43a"/>
<rect x="481.6" y="367.3" width="4.8" height="4.8" fill="#e8261c"/>
<path d="M481.3,372.0L484.0,367.1L486.7,372.0Z" fill="#22c43a"/>
<rect x="491.5" y="367.5" width="4.8" height="4.8" fill="#e8261c"/>
<path d="M491.2,372.2L493.9,367.3L496.6,372.2Z" fill="#22c43a"/>
<rect x="500.4" y="367.2" width="4.8" height="4.8" fill="#e8261c"/>
<path d="M500.1,371.9L502.8,367.0L505.5,371.9Z" fill="#22c43a"/>
<rect x="506.0" y="366.8" width="4.8" height="4.8" fill="#e8261c"/>
<path d="M505.7,371.5L508.4,366.6L511.1,371.5Z" fill="#22c43a"/>
<rect x="508.9" y="367.0" width="4.8" height="4.8" fill="#e8261c"/>
<path d="M508.6,371.7L511.3,366.8L514.0,371.7Z" fill="#22c43a"/>
<rect x="514.5" y="366.9" width="4.8" height="4.8" fill="#e8261c"/>
<path d="M514.2,371.6L516.9,366.7L519.6,371.6Z" fill="#22c43a"/>
<rect x="523.4" y="366.9" width="4.8" height="4.8" fill="#e8261c"/>
<path d="M523.1,371.6L525.8,366.7L528.5,371.6Z" fill="#22c43a"/>
<rect x="533.4" y="367.0" width="4.8" height="4.8" fill="#e8261c"/>
<path d="M533.1,371.7L535.8,366.8L538.5,371.7Z" fill="#22c43a"/>
<rect x="542.2" y="367.8" width="4.8" height="4.8" fill="#e8261c"/>
<path d="M541.9,372.5L544.6,367.6L547.3,372.5Z" fill="#22c43a"/>
<rect x="547.9" y="367.5" width="4.8" height="4.8" fill="#e8261c"/>
<path d="M547.6,372.2L550.3,367.3L553.0,372.2Z" fill="#22c43a"/>
<rect x="550.7" y="366.5" width="4.8" height="4.8" fill="#e8261c"/>
<path d="M550.4,371.2L553.1,366.3L555.8,371.2Z" fill="#22c43a"/>
<rect x="556.4" y="367.2" width="4.8" height="4.8" fill="#e8261c"/>
<path d="M556.1,371.9L558.8,367.0L561.5,371.9Z" fill="#22c43a"/>
<rect x="565.2" y="366.8" width="4.8" height="4.8" fill="#e8261c"/>
<path d="M564.9,371.5L567.6,366.6L570.3,371.5Z" fill="#22c43a"/>
<rect x="575.2" y="367.6" width="4.8" height="4.8" fill="#e8261c"/>
<path d="M574.9,372.3L577.6,367.4L580.3,372.3Z" fill="#22c43a"/>
<rect x="584.0" y="367.3" width="4.8" height="4.8" fill="#e8261c"/>
<path d="M583.7,372.0L586.4,367.1L589.1,372.0Z" fill="#22c43a"/>
<rect x="589.7" y="366.4" width="4.8" height="4.8" fill="#e8261c"/>
<path d="M589.4,371.1L592.1,366.2L594.8,371.1Z" fill="#22c43a"/>
<rect x="592.5" y="366.8" width="4.8" height="4.8" fill="#e8261c"/>
<path d="M592.2,371.5L594.9,366.6L597.6,371.5Z" fill="#22c43a"/>
<rect x="598.2" y="366.2" width="4.8" height="4.8" fill="#e8261c"/>
<path d="M597.9,370.9L600.6,366.0L603.3,370.9Z" fill="#22c43a"/>
<rect x="607.0" y="366.7" width="4.8" height="4.8" fill="#e8261c"/>
<path d="M606.7,371.4L609.4,366.5L612.1,371.4Z" fill="#22c43a"/>
<rect x="617.0" y="366.9" width="4.8" height="4.8" fill="#e8261c"/>
<path d="M616.7,371.6L619.4,366.7L622.1,371.6Z" fill="#22c43a"/>
<rect x="625.8" y="367.0" width="4.8" height="4.8" fill="#e8261c"/>
<path d="M625.5,371.7L628.2,366.8L630.9,371.7Z" fill="#22c43a"/>
<rect x="631.5" y="366.9" width="4.8" height="4.8" fill="#e8261c"/>
<path d="M631.2,371.6L633.9,366.7L636.6,371.6Z" fill="#22c43a"/>
<rect x="634.3" y="366.6" width="4.8" height="4.8" fill="#e8261c"/>
<path d="M634.0,371.3L636.7,366.4L639.4,371.3Z" fill="#22c43a"/>
<path d="M383.5,154.8L389.1,154.8L386.3,159.8Z" fill="#4a5cf0"/>
<path d="M391.2,193.8L396.8,193.8L394.0,198.8Z" fill="#4a5cf0"/>
<path d="M403.2,297.2L408.8,297.2L406.0,302.2Z" fill="#4a5cf0"/>
<path d="M416.7,356.1L422.3,356.1L419.5,361.1Z" fill="#4a5cf0"/>
<path d="M428.7,366.5L434.3,366.5L431.5,371.5Z" fill="#4a5cf0"/>
<path d="M436.4,367.5L442.0,367.5L439.2,372.5Z" fill="#4a5cf0"/>
<path d="M440.2,366.3L445.8,366.3L443.0,371.3Z" fill="#4a5cf0"/>
<path d="M447.9,367.5L453.5,367.5L450.7,372.5Z" fill="#4a5cf0"/>
<path d="M459.9,366.6L465.5,366.6L462.7,371.6Z" fill="#4a5cf0"/>
<path d="M473.4,366.2L479.0,366.2L476.2,371.2Z" fill="#4a5cf0"/>
<path d="M485.4,367.4L491.0,367.4L488.2,372.4Z" fill="#4a5cf0"/>
<path d="M493.1,367.1L498.7,367.1L495.9,372.1Z" fill="#4a5cf0"/>
<path d="M496.9,366.1L502.5,366.1L499.7,371.1Z" fill="#4a5cf0"/>
<path d="M504.6,367.5L510.2,367.5L507.4,372.5Z" fill="#4a5cf0"/>
<path d="M516.6,366.9L522.2,366.9L519.4,371.9Z" fill="#4a5cf0"/>
<path d="M530.1,367.4L535.7,367.4L532.9,372.4Z" fill="#4a5cf0"/>
<path d="M542.1,366.5L547.7,366.5L544.9,371.5Z" fill="#4a5cf0"/>
<path d="M549.8,366.8L555.4,366.8L552.6,371.8Z" fill="#4a5cf0"/>
<path d="M553.6,367.7L559.2,367.7L556.4,372.7Z" fill="#4a5cf0"/>
<path d="M561.3,366.7L566.9,366.7L564.1,371.7Z" fill="#4a5cf0"/>
<path d="M573.2,367.7L578.8,367.7L576.0,372.7Z" fill="#4a5cf0"/>
<path d="M586.8,366.4L592.4,366.4L589.6,371.4Z" fill="#4a5cf0"/>
<path d="M598.8,367.6L604.4,367.6L601.6,372.6Z" fill="#4a5cf0"/>
<path d="M606.4,367.7L612.0,367.7L609.2,372.7Z" fill="#4a5cf0"/>
<path d="M610.3,367.3L615.9,367.3L613.1,372.3Z" fill="#4a5cf0"/>
<path d="M618.0,367.0L623.6,367.0L620.8,372.0Z" fill="#4a5cf0"/>
<path d="M629.9,366.3L635.5,366.3L632.7,371.3Z" fill="#4a5cf0"/>
<path d="M390.1,168.4L393.4,171.7L390.1,175.0L386.8,171.7Z" fill="#ff3cf0"/>
<path d="M397.2,220.0L400.5,223.3L397.2,226.6L393.9,223.3Z" fill="#ff3cf0"/>
<path d="M405.2,292.2L408.5,295.5L405.2,298.8L401.9,295.5Z" fill="#ff3cf0"/>
<path d="M412.3,332.0L415.6,335.3L412.3,338.6L409.0,335.3Z" fill="#ff3cf0"/>
<path d="M416.8,348.3L420.1,351.6L416.8,354.9L413.5,351.6Z" fill="#ff3cf0"/>
<path d="M419.1,353.0L422.4,356.3L419.1,359.6L415.8,356.3Z" fill="#ff3cf0"/>
<path d="M423.7,360.9L427.0,364.2L423.7,367.5L420.4,364.2Z" fill="#ff3cf0"/>
<path d="M430.7,365.4L434.0,368.7L430.7,372.0L427.4,368.7Z" fill="#ff3cf0"/>
<path d="M438.8,365.9L442.1,369.2L438.8,372.5L435.5,369.2Z" fill="#ff3cf0"/>
<path d="M445.8,365.9L449.1,369.2L445.8,372.5L442.5,369.2Z" fill="#ff3cf0"/>
<path d="M450.4,366.4L453.7,369.7L450.4,373.0L447.1,369.7Z" fill="#ff3cf0"/>
<path d="M452.7,365.9L456.0,369.2L452.7,372.5L449.4,369.2Z" fill="#ff3cf0"/>
<path d="M457.2,366.7L460.5,370.0L457.2,373.3L453.9,370.0Z" fill="#ff3cf0"/>
<path d="M464.3,366.8L467.6,370.1L464.3,373.4L461.0,370.1Z" fill="#ff3cf0"/>
<path d="M472.3,366.3L475.6,369.6L472.3,372.9L469.0,369.6Z" fill="#ff3cf0"/>
<path d="M479.4,365.6L482.7,368.9L479.4,372.2L476.1,368.9Z" fill="#ff3cf0"/>
<path d="M484.0,366.0L487.3,369.3L484.0,372.6L480.7,369.3Z" fill="#ff3cf0"/>
<path d="M486.2,366.3L489.5,369.6L486.2,372.9L482.9,369.6Z" fill="#ff3cf0"/>
<path d="M490.8,366.4L494.1,369.7L490.8,373.0L487.5,369.7Z" fill="#ff3cf0"/>
<path d="M497.9,365.6L501.2,368.9L497.9,372.2L494.6,368.9Z" fill="#ff3cf0"/>
<path d="M505.9,366.5L509.2,369.8L505.9,373.1L502.6,369.8Z" fill="#ff3cf0"/>
<path d="M513.0,365.2L516.3,368.5L513.0,371.8L509.7,368.5Z" fill="#ff3cf0"/>
<path d="M517.5,365.4L520.8,368.7L517.5,372.0L514.2,368.7Z" fill="#ff3cf0"/>
<path d="M519.8,366.0L523.1,369.3L519.8,372.6L516.5,369.3Z" fill="#ff3cf0"/>
<path d="M524.3,366.2L527.6,369.5L524.3,372.8L521.0,369.5Z" fill="#ff3cf0"/>
<path d="M531.4,365.7L534.7,369.0L531.4,372.3L528.1,369.0Z" fill="#ff3cf0"/>
<path d="M539.5,366.3L542.8,369.6L539.5,372.9L536.2,369.6Z" fill="#ff3cf0"/>
<path d="M546.5,365.6L549.8,368.9L546.5,372.2L543.2,368.9Z" fill="#ff3cf0"/>
<path d="M551.1,366.2L554.4,369.5L551.1,372.8L547.8,369.5Z" fill="#ff3cf0"/>
<path d="M553.4,366.8L556.7,370.1L553.4,373.4L550.1,370.1Z" fill="#ff3cf0"/>
<path d="M557.9,366.7L561.2,370.0L557.9,373.3L554.6,370.0Z" fill="#ff3cf0"/>
<path d="M565.0,366.4L568.3,369.7L565.0,373.0L561.7,369.7Z" fill="#ff3cf0"/>
<path d="M573.0,366.7L576.3,370.0L573.0,373.3L569.7,370.0Z" fill="#ff3cf0"/>
<path d="M580.1,365.4L583.4,368.7L580.1,372.0L576.8,368.7Z" fill="#ff3cf0"/>
<path d="M584.7,366.4L588.0,369.7L584.7,373.0L581.4,369.7Z" fill="#ff3cf0"/>
<path d="M586.9,366.4L590.2,369.7L586.9,373.0L583.6,369.7Z" fill="#ff3cf0"/>
<path d="M591.5,366.6L594.8,369.9L591.5,373.2L588.2,369.9Z" fill="#ff3cf0"/>
<path d="M598.6,366.4L601.9,369.7L598.6,373.0L595.3,369.7Z" fill="#ff3cf0"/>
<path d="M606.6,365.2L609.9,368.5L606.6,371.8L603.3,368.5Z" fill="#ff3cf0"/>
<path d="M613.7,366.4L617.0,369.7L613.7,373.0L610.4,369.7Z" fill="#ff3cf0"/>
<path d="M618.2,366.3L621.5,369.6L618.2,372.9L614.9,369.6Z" fill="#ff3cf0"/>
<path d="M620.5,366.9L623.8,370.2L620.5,373.5L617.2,370.2Z" fill="#ff3cf0"/>
<path d="M625.0,366.0L628.3,369.3L625.0,372.6L621.7,369.3Z" fill="#ff3cf0"/>
<path d="M632.1,366.5L635.4,369.8L632.1,373.1L628.8,369.8Z" fill="#ff3cf0"/>
<line x1="544.4" y1="190.5" x2="586.4" y2="190.5" stroke="#333" stroke-width="1" stroke-dasharray="1.5,0.8"/>
<text x="592.9" y="193.3" class="lg">Exact</text>
<text x="592.9" y="204.3" class="lg">DG via FR</text>
<text x="592.9" y="215.3" class="lg">OESFR</text>
<text x="592.9" y="226.3" class="lg">OFR</text>
<text x="592.9" y="237.3" class="lg">c<tspan class="sub" dy="2">+</tspan><tspan dy="-2"> via ESFR</tspan></text>
<rect x="562.5" y="198.6" width="5.8" height="5.8" fill="#e8261c"/>
<path d="M562.4,214.9L565.4,209.8L568.4,214.9Z" fill="#22c43a"/>
<path d="M562.4,221.1L568.4,221.1L565.4,226.2Z" fill="#4a5cf0"/>
<path d="M565.4,231.1L568.8,234.5L565.4,237.9L562.0,234.5Z" fill="#ff3cf0"/>
<path d="M57.5,482.0V731.6H312.7" fill="none" stroke="#2b2b2b" stroke-width="1.3"/>
<path d="M53.3,731.6H57.5M53.3,721.6H57.5M53.3,710.7H57.5M51.0,699.8H57.5M53.3,688.9H57.5M53.3,678.0H57.5M53.3,667.1H57.5M51.0,656.2H57.5M53.3,645.3H57.5M53.3,634.5H57.5M53.3,623.6H57.5M51.0,612.7H57.5M53.3,601.8H57.5M53.3,590.9H57.5M53.3,580.0H57.5M51.0,569.1H57.5M53.3,558.2H57.5M53.3,547.3H57.5M53.3,536.5H57.5M51.0,525.6H57.5M53.3,514.7H57.5M53.3,503.8H57.5M53.3,492.9H57.5M51.0,482.0H57.5M57.5,731.6V738.6M70.3,731.6V735.8M83.0,731.6V735.8M95.8,731.6V735.8M108.5,731.6V735.8M121.3,731.6V738.6M134.1,731.6V735.8M146.8,731.6V735.8M159.6,731.6V735.8M172.3,731.6V735.8M185.1,731.6V738.6M197.9,731.6V735.8M210.6,731.6V735.8M223.4,731.6V735.8M236.1,731.6V735.8M248.9,731.6V738.6M261.7,731.6V735.8M274.4,731.6V735.8M287.2,731.6V735.8M299.9,731.6V735.8M312.7,731.6V738.6" fill="none" stroke="#2b2b2b" stroke-width="1.2"/>
<text transform="translate(47.3,703.2) scale(0.87,1)" text-anchor="end" class="tl">0</text>
<text transform="translate(47.3,659.6) scale(0.87,1)" text-anchor="end" class="tl">0.2</text>
<text transform="translate(47.3,616.1) scale(0.87,1)" text-anchor="end" class="tl">0.4</text>
<text transform="translate(47.3,572.5) scale(0.87,1)" text-anchor="end" class="tl">0.6</text>
<text transform="translate(47.3,529.0) scale(0.87,1)" text-anchor="end" class="tl">0.8</text>
<text transform="translate(47.3,485.4) scale(0.87,1)" text-anchor="end" class="tl">1</text>
<text transform="translate(57.5,751.4) scale(0.87,1)" text-anchor="middle" class="tl">-6</text>
<text transform="translate(121.3,751.4) scale(0.87,1)" text-anchor="middle" class="tl">-5.5</text>
<text transform="translate(185.1,751.4) scale(0.87,1)" text-anchor="middle" class="tl">-5</text>
<text transform="translate(248.9,751.4) scale(0.87,1)" text-anchor="middle" class="tl">-4.5</text>
<text transform="translate(312.7,751.4) scale(0.87,1)" text-anchor="middle" class="tl">-4</text>
<text x="186.8" y="768.9" text-anchor="middle" class="xl">x</text>
<text transform="translate(22.5,594.7) rotate(-90)" text-anchor="middle" class="yl">u<tspan class="sup" dy="-6.5" dx="-0.5">δ</tspan></text>
<text x="10.5" y="466.0" class="pl">(c)</text>
<text x="266.9" y="466.0" class="pt">t/T = 3/4</text>
<path id="cvc" d="M57.50,699.80L58.78,699.80L60.05,699.80L61.33,699.80L62.60,699.80L63.88,699.80L65.16,699.80L66.43,699.80L67.71,699.80L68.98,699.80L70.26,699.80L71.54,699.80L72.81,699.80L74.09,699.80L75.36,699.80L76.64,699.80L77.92,699.80L79.19,699.80L80.47,699.80L81.74,699.80L83.02,699.80L84.30,699.80L85.57,699.80L86.85,699.80L88.12,699.80L89.40,699.80L90.68,699.80L91.95,699.80L93.23,699.80L94.50,699.80L95.78,699.80L97.06,699.80L98.33,699.80L99.61,699.80L100.88,699.80L102.16,699.80L103.44,699.80L104.71,699.80L105.99,699.80L107.26,699.80L108.54,699.80L109.82,699.80L111.09,699.80L112.37,699.80L113.64,699.80L114.92,699.80L116.20,699.80L117.47,699.80L118.75,699.79L120.02,699.79L121.30,699.79L122.58,699.78L123.85,699.77L125.13,699.76L126.40,699.74L127.68,699.71L128.96,699.67L130.23,699.62L131.51,699.55L132.78,699.46L134.06,699.34L135.34,699.17L136.61,698.96L137.89,698.68L139.16,698.31L140.44,697.84L141.72,697.25L142.99,696.50L144.27,695.56L145.54,694.40L146.82,692.97L148.10,691.23L149.37,689.13L150.65,686.62L151.92,683.64L153.20,680.13L154.48,676.05L155.75,671.34L157.03,665.97L158.30,659.88L159.58,653.06L160.86,645.49L162.13,637.18L163.41,628.16L164.68,618.46L165.96,608.15L167.24,597.34L168.51,586.12L169.79,574.64L171.06,563.06L172.34,551.56L173.62,540.32L174.89,529.54L176.17,519.42L177.44,510.17L178.72,501.97L180.00,495.00L181.27,489.41L182.55,485.33L183.82,482.84L185.10,482.00L186.38,482.84L187.65,485.33L188.93,489.41L190.20,495.00L191.48,501.97L192.76,510.17L194.03,519.42L195.31,529.54L196.58,540.32L197.86,551.56L199.14,563.06L200.41,574.64L201.69,586.12L202.96,597.34L204.24,608.15L205.52,618.46L206.79,628.16L208.07,637.18L209.34,645.49L210.62,653.06L211.90,659.88L213.17,665.97L214.45,671.34L215.72,676.05L217.00,680.13L218.28,683.64L219.55,686.62L220.83,689.13L222.10,691.23L223.38,692.97L224.66,694.40L225.93,695.56L227.21,696.50L228.48,697.25L229.76,697.84L231.04,698.31L232.31,698.68L233.59,698.96L234.86,699.17L236.14,699.34L237.42,699.46L238.69,699.55L239.97,699.62L241.24,699.67L242.52,699.71L243.80,699.74L245.07,699.76L246.35,699.77L247.62,699.78L248.90,699.79L250.18,699.79L251.45,699.79L252.73,699.80L254.00,699.80L255.28,699.80L256.56,699.80L257.83,699.80L259.11,699.80L260.38,699.80L261.66,699.80L262.94,699.80L264.21,699.80L265.49,699.80L266.76,699.80L268.04,699.80L269.32,699.80L270.59,699.80L271.87,699.80L273.14,699.80L274.42,699.80L275.70,699.80L276.97,699.80L278.25,699.80L279.52,699.80L280.80,699.80L282.08,699.80L283.35,699.80L284.63,699.80L285.90,699.80L287.18,699.80L288.46,699.80L289.73,699.80L291.01,699.80L292.28,699.80L293.56,699.80L294.84,699.80L296.11,699.80L297.39,699.80L298.66,699.80L299.94,699.80L301.22,699.80L302.49,699.80L303.77,699.80L305.04,699.80L306.32,699.80L307.60,699.80L308.87,699.80L310.15,699.80L311.42,699.80L312.70,699.80" fill="none"/>
<use href="#cvc" transform="translate(-0.6,0)" stroke="#ff40f0" stroke-width="1.1" opacity="0.9"/>
<use href="#cvc" transform="translate(0.6,0)" stroke="#9040b0" stroke-width="1.0" opacity="0.7"/>
<use href="#cvc" transform="translate(-0.3,0.3)" stroke="#4a5cf0" stroke-width="1.0" opacity="0.9"/>
<use href="#cvc" stroke="#1a1a2a" stroke-width="0.7"/>
<rect x="62.7" y="698.3" width="4.8" height="4.8" fill="#e8261c"/>
<path d="M62.4,703.0L65.1,698.1L67.8,703.0Z" fill="#22c43a"/>
<rect x="72.6" y="698.1" width="4.8" height="4.8" fill="#e8261c"/>
<path d="M72.3,702.8L75.0,697.9L77.7,702.8Z" fill="#22c43a"/>
<rect x="81.5" y="698.2" width="4.8" height="4.8" fill="#e8261c"/>
<path d="M81.2,702.9L83.9,698.0L86.6,702.9Z" fill="#22c43a"/>
<rect x="87.2" y="697.7" width="4.8" height="4.8" fill="#e8261c"/>
<path d="M86.9,702.4L89.6,697.5L92.3,702.4Z" fill="#22c43a"/>
<rect x="90.0" y="697.3" width="4.8" height="4.8" fill="#e8261c"/>
<path d="M89.7,702.0L92.4,697.1L95.1,702.0Z" fill="#22c43a"/>
<rect x="95.7" y="697.0" width="4.8" height="4.8" fill="#e8261c"/>
<path d="M95.4,701.7L98.1,696.8L100.8,701.7Z" fill="#22c43a"/>
<rect x="104.5" y="697.0" width="4.8" height="4.8" fill="#e8261c"/>
<path d="M104.2,701.7L106.9,696.8L109.6,701.7Z" fill="#22c43a"/>
<rect x="114.5" y="697.6" width="4.8" height="4.8" fill="#e8261c"/>
<path d="M114.2,702.3L116.9,697.4L119.6,702.3Z" fill="#22c43a"/>
<rect x="123.3" y="696.5" width="4.8" height="4.8" fill="#e8261c"/>
<path d="M123.0,701.2L125.7,696.3L128.4,701.2Z" fill="#22c43a"/>
<rect x="129.0" y="696.8" width="4.8" height="4.8" fill="#e8261c"/>
<path d="M128.7,701.5L131.4,696.6L134.1,701.5Z" fill="#22c43a"/>
<rect x="131.8" y="697.7" width="4.8" height="4.8" fill="#e8261c"/>
<path d="M131.5,702.4L134.2,697.5L136.9,702.4Z" fill="#22c43a"/>
<rect x="137.5" y="695.0" width="4.8" height="4.8" fill="#e8261c"/>
<path d="M137.2,699.7L139.9,694.8L142.6,699.7Z" fill="#22c43a"/>
<rect x="146.3" y="687.4" width="4.8" height="4.8" fill="#e8261c"/>
<path d="M146.0,692.1L148.7,687.2L151.4,692.1Z" fill="#22c43a"/>
<rect x="156.3" y="657.0" width="4.8" height="4.8" fill="#e8261c"/>
<path d="M156.0,661.7L158.7,656.8L161.4,661.7Z" fill="#22c43a"/>
<rect x="165.2" y="593.0" width="4.8" height="4.8" fill="#e8261c"/>
<path d="M164.9,597.7L167.6,592.8L170.3,597.7Z" fill="#22c43a"/>
<rect x="170.8" y="543.2" width="4.8" height="4.8" fill="#e8261c"/>
<path d="M170.5,547.9L173.2,543.0L175.9,547.9Z" fill="#22c43a"/>
<rect x="173.7" y="521.0" width="4.8" height="4.8" fill="#e8261c"/>
<path d="M173.4,525.7L176.1,520.8L178.8,525.7Z" fill="#22c43a"/>
<rect x="179.3" y="490.2" width="4.8" height="4.8" fill="#e8261c"/>
<path d="M179.0,494.9L181.7,490.0L184.4,494.9Z" fill="#22c43a"/>
<rect x="188.2" y="500.6" width="4.8" height="4.8" fill="#e8261c"/>
<path d="M187.9,505.3L190.6,500.4L193.3,505.3Z" fill="#22c43a"/>
<rect x="198.2" y="578.0" width="4.8" height="4.8" fill="#e8261c"/>
<path d="M197.9,582.7L200.6,577.8L203.3,582.7Z" fill="#22c43a"/>
<rect x="207.0" y="644.1" width="4.8" height="4.8" fill="#e8261c"/>
<path d="M206.7,648.8L209.4,643.9L212.1,648.8Z" fill="#22c43a"/>
<rect x="212.7" y="671.6" width="4.8" height="4.8" fill="#e8261c"/>
<path d="M212.4,676.3L215.1,671.4L217.8,676.3Z" fill="#22c43a"/>
<rect x="215.5" y="680.2" width="4.8" height="4.8" fill="#e8261c"/>
<path d="M215.2,684.9L217.9,680.0L220.6,684.9Z" fill="#22c43a"/>
<rect x="221.2" y="691.3" width="4.8" height="4.8" fill="#e8261c"/>
<path d="M220.9,696.0L223.6,691.1L226.3,696.0Z" fill="#22c43a"/>
<rect x="230.0" y="695.8" width="4.8" height="4.8" fill="#e8261c"/>
<path d="M229.7,700.5L232.4,695.6L235.1,700.5Z" fill="#22c43a"/>
<rect x="240.0" y="697.3" width="4.8" height="4.8" fill="#e8261c"/>
<path d="M239.7,702.0L242.4,697.1L245.1,702.0Z" fill="#22c43a"/>
<rect x="248.8" y="697.1" width="4.8" height="4.8" fill="#e8261c"/>
<path d="M248.5,701.8L251.2,696.9L253.9,701.8Z" fill="#22c43a"/>
<rect x="254.5" y="697.0" width="4.8" height="4.8" fill="#e8261c"/>
<path d="M254.2,701.7L256.9,696.8L259.6,701.7Z" fill="#22c43a"/>
<rect x="257.3" y="698.1" width="4.8" height="4.8" fill="#e8261c"/>
<path d="M257.0,702.8L259.7,697.9L262.4,702.8Z" fill="#22c43a"/>
<rect x="263.0" y="697.0" width="4.8" height="4.8" fill="#e8261c"/>
<path d="M262.7,701.7L265.4,696.8L268.1,701.7Z" fill="#22c43a"/>
<rect x="271.8" y="697.0" width="4.8" height="4.8" fill="#e8261c"/>
<path d="M271.5,701.7L274.2,696.8L276.9,701.7Z" fill="#22c43a"/>
<rect x="281.8" y="697.4" width="4.8" height="4.8" fill="#e8261c"/>
<path d="M281.5,702.1L284.2,697.2L286.9,702.1Z" fill="#22c43a"/>
<rect x="290.7" y="697.4" width="4.8" height="4.8" fill="#e8261c"/>
<path d="M290.4,702.1L293.1,697.2L295.8,702.1Z" fill="#22c43a"/>
<rect x="296.3" y="696.9" width="4.8" height="4.8" fill="#e8261c"/>
<path d="M296.0,701.6L298.7,696.7L301.4,701.6Z" fill="#22c43a"/>
<rect x="299.2" y="697.2" width="4.8" height="4.8" fill="#e8261c"/>
<path d="M298.9,701.9L301.6,697.0L304.3,701.9Z" fill="#22c43a"/>
<rect x="304.8" y="698.0" width="4.8" height="4.8" fill="#e8261c"/>
<path d="M304.5,702.7L307.2,697.8L309.9,702.7Z" fill="#22c43a"/>
<path d="M56.6,697.0L62.2,697.0L59.4,702.0Z" fill="#4a5cf0"/>
<path d="M64.3,697.3L69.9,697.3L67.1,702.3Z" fill="#4a5cf0"/>
<path d="M76.3,698.2L81.9,698.2L79.1,703.2Z" fill="#4a5cf0"/>
<path d="M89.8,697.1L95.4,697.1L92.6,702.1Z" fill="#4a5cf0"/>
<path d="M101.8,697.1L107.4,697.1L104.6,702.1Z" fill="#4a5cf0"/>
<path d="M109.5,697.4L115.1,697.4L112.3,702.4Z" fill="#4a5cf0"/>
<path d="M113.3,697.5L118.9,697.5L116.1,702.5Z" fill="#4a5cf0"/>
<path d="M121.0,696.7L126.6,696.7L123.8,701.7Z" fill="#4a5cf0"/>
<path d="M133.0,695.9L138.6,695.9L135.8,700.9Z" fill="#4a5cf0"/>
<path d="M146.5,687.9L152.1,687.9L149.3,692.9Z" fill="#4a5cf0"/>
<path d="M158.5,639.1L164.1,639.1L161.3,644.1Z" fill="#4a5cf0"/>
<path d="M166.2,583.6L171.8,583.6L169.0,588.6Z" fill="#4a5cf0"/>
<path d="M170.0,547.0L175.6,547.0L172.8,552.0Z" fill="#4a5cf0"/>
<path d="M177.7,495.7L183.3,495.7L180.5,500.7Z" fill="#4a5cf0"/>
<path d="M189.7,511.5L195.3,511.5L192.5,516.5Z" fill="#4a5cf0"/>
<path d="M203.2,623.1L208.8,623.1L206.0,628.1Z" fill="#4a5cf0"/>
<path d="M215.2,680.4L220.8,680.4L218.0,685.4Z" fill="#4a5cf0"/>
<path d="M222.9,692.3L228.5,692.3L225.7,697.3Z" fill="#4a5cf0"/>
<path d="M226.7,695.8L232.3,695.8L229.5,700.8Z" fill="#4a5cf0"/>
<path d="M234.4,697.1L240.0,697.1L237.2,702.1Z" fill="#4a5cf0"/>
<path d="M246.4,698.3L252.0,698.3L249.2,703.3Z" fill="#4a5cf0"/>
<path d="M260.0,697.5L265.6,697.5L262.8,702.5Z" fill="#4a5cf0"/>
<path d="M271.9,698.0L277.5,698.0L274.7,703.0Z" fill="#4a5cf0"/>
<path d="M279.6,697.7L285.2,697.7L282.4,702.7Z" fill="#4a5cf0"/>
<path d="M283.5,698.3L289.1,698.3L286.3,703.3Z" fill="#4a5cf0"/>
<path d="M291.2,696.8L296.8,696.8L294.0,701.8Z" fill="#4a5cf0"/>
<path d="M303.1,696.7L308.7,696.7L305.9,701.7Z" fill="#4a5cf0"/>
<path d="M63.6,695.8L66.9,699.1L63.6,702.4L60.3,699.1Z" fill="#ff3cf0"/>
<path d="M71.6,696.7L74.9,700.0L71.6,703.3L68.3,700.0Z" fill="#ff3cf0"/>
<path d="M78.7,695.6L82.0,698.9L78.7,702.2L75.4,698.9Z" fill="#ff3cf0"/>
<path d="M83.2,696.7L86.5,700.0L83.2,703.3L79.9,700.0Z" fill="#ff3cf0"/>
<path d="M85.5,696.9L88.8,700.2L85.5,703.5L82.2,700.2Z" fill="#ff3cf0"/>
<path d="M90.1,697.2L93.4,700.5L90.1,703.8L86.8,700.5Z" fill="#ff3cf0"/>
<path d="M97.1,696.9L100.4,700.2L97.1,703.5L93.8,700.2Z" fill="#ff3cf0"/>
<path d="M105.2,696.9L108.5,700.2L105.2,703.5L101.9,700.2Z" fill="#ff3cf0"/>
<path d="M112.3,696.5L115.6,699.8L112.3,703.1L109.0,699.8Z" fill="#ff3cf0"/>
<path d="M116.8,696.7L120.1,700.0L116.8,703.3L113.5,700.0Z" fill="#ff3cf0"/>
<path d="M119.1,695.8L122.4,699.1L119.1,702.4L115.8,699.1Z" fill="#ff3cf0"/>
<path d="M123.6,696.2L126.9,699.5L123.6,702.8L120.3,699.5Z" fill="#ff3cf0"/>
<path d="M130.7,695.5L134.0,698.8L130.7,702.1L127.4,698.8Z" fill="#ff3cf0"/>
<path d="M138.7,694.9L142.0,698.2L138.7,701.5L135.4,698.2Z" fill="#ff3cf0"/>
<path d="M145.8,690.6L149.1,693.9L145.8,697.2L142.5,693.9Z" fill="#ff3cf0"/>
<path d="M150.4,683.6L153.7,686.9L150.4,690.2L147.1,686.9Z" fill="#ff3cf0"/>
<path d="M152.7,680.0L156.0,683.3L152.7,686.6L149.4,683.3Z" fill="#ff3cf0"/>
<path d="M157.2,663.1L160.5,666.4L157.2,669.7L153.9,666.4Z" fill="#ff3cf0"/>
<path d="M164.3,620.9L167.6,624.2L164.3,627.5L161.0,624.2Z" fill="#ff3cf0"/>
<path d="M172.3,551.4L175.6,554.7L172.3,558.0L169.0,554.7Z" fill="#ff3cf0"/>
<path d="M179.4,499.3L182.7,502.6L179.4,505.9L176.1,502.6Z" fill="#ff3cf0"/>
<path d="M184.0,484.5L187.3,487.8L184.0,491.1L180.7,487.8Z" fill="#ff3cf0"/>
<path d="M186.2,484.7L189.5,488.0L186.2,491.3L182.9,488.0Z" fill="#ff3cf0"/>
<path d="M190.8,500.9L194.1,504.2L190.8,507.5L187.5,504.2Z" fill="#ff3cf0"/>
<path d="M197.9,550.8L201.2,554.1L197.9,557.4L194.6,554.1Z" fill="#ff3cf0"/>
<path d="M205.9,621.5L209.2,624.8L205.9,628.1L202.6,624.8Z" fill="#ff3cf0"/>
<path d="M213.0,660.6L216.3,663.9L213.0,667.2L209.7,663.9Z" fill="#ff3cf0"/>
<path d="M217.5,679.5L220.8,682.8L217.5,686.1L214.2,682.8Z" fill="#ff3cf0"/>
<path d="M219.8,685.2L223.1,688.5L219.8,691.8L216.5,688.5Z" fill="#ff3cf0"/>
<path d="M224.4,691.4L227.7,694.7L224.4,698.0L221.1,694.7Z" fill="#ff3cf0"/>
<path d="M231.5,695.7L234.8,699.0L231.5,702.3L228.2,699.0Z" fill="#ff3cf0"/>
<path d="M239.5,696.2L242.8,699.5L239.5,702.8L236.2,699.5Z" fill="#ff3cf0"/>
<path d="M246.6,696.0L249.9,699.3L246.6,702.6L243.3,699.3Z" fill="#ff3cf0"/>
<path d="M251.1,696.6L254.4,699.9L251.1,703.2L247.8,699.9Z" fill="#ff3cf0"/>
<path d="M253.4,696.7L256.7,700.0L253.4,703.3L250.1,700.0Z" fill="#ff3cf0"/>
<path d="M257.9,697.3L261.2,700.6L257.9,703.9L254.6,700.6Z" fill="#ff3cf0"/>
<path d="M265.0,695.7L268.3,699.0L265.0,702.3L261.7,699.0Z" fill="#ff3cf0"/>
<path d="M273.1,696.5L276.4,699.8L273.1,703.1L269.8,699.8Z" fill="#ff3cf0"/>
<path d="M280.1,695.9L283.4,699.2L280.1,702.5L276.8,699.2Z" fill="#ff3cf0"/>
<path d="M284.7,696.9L288.0,700.2L284.7,703.5L281.4,700.2Z" fill="#ff3cf0"/>
<path d="M287.0,696.7L290.3,700.0L287.0,703.3L283.7,700.0Z" fill="#ff3cf0"/>
<path d="M291.5,695.7L294.8,699.0L291.5,702.3L288.2,699.0Z" fill="#ff3cf0"/>
<path d="M298.6,695.9L301.9,699.2L298.6,702.5L295.3,699.2Z" fill="#ff3cf0"/>
<path d="M306.6,697.3L309.9,700.6L306.6,703.9L303.3,700.6Z" fill="#ff3cf0"/>
<line x1="217.5" y1="520.9" x2="259.5" y2="520.9" stroke="#333" stroke-width="1" stroke-dasharray="1.5,0.8"/>
<text x="266.0" y="523.7" class="lg">Exact</text>
<text x="266.0" y="534.7" class="lg">DG via FR</text>
<text x="266.0" y="545.7" class="lg">OESFR</text>
<text x="266.0" y="556.7" class="lg">OFR</text>
<text x="266.0" y="567.7" class="lg">c<tspan class="sub" dy="2">+</tspan><tspan dy="-2"> via ESFR</tspan></text>
<rect x="235.6" y="529.0" width="5.8" height="5.8" fill="#e8261c"/>
<path d="M235.5,545.3L238.5,540.2L241.5,545.3Z" fill="#22c43a"/>
<path d="M235.5,551.5L241.5,551.5L238.5,556.6Z" fill="#4a5cf0"/>
<path d="M238.5,561.5L241.9,564.9L238.5,568.3L235.1,564.9Z" fill="#ff3cf0"/>
<path d="M384.4,482.0V731.6H639.5" fill="none" stroke="#2b2b2b" stroke-width="1.3"/>
<path d="M380.2,731.6H384.4M380.2,721.6H384.4M380.2,710.7H384.4M377.9,699.8H384.4M380.2,688.9H384.4M380.2,678.0H384.4M380.2,667.1H384.4M377.9,656.2H384.4M380.2,645.3H384.4M380.2,634.5H384.4M380.2,623.6H384.4M377.9,612.7H384.4M380.2,601.8H384.4M380.2,590.9H384.4M380.2,580.0H384.4M377.9,569.1H384.4M380.2,558.2H384.4M380.2,547.3H384.4M380.2,536.5H384.4M377.9,525.6H384.4M380.2,514.7H384.4M380.2,503.8H384.4M380.2,492.9H384.4M377.9,482.0H384.4M384.4,731.6V738.6M397.2,731.6V735.8M409.9,731.6V735.8M422.7,731.6V735.8M435.4,731.6V735.8M448.2,731.6V738.6M460.9,731.6V735.8M473.7,731.6V735.8M486.4,731.6V735.8M499.2,731.6V735.8M511.9,731.6V738.6M524.7,731.6V735.8M537.5,731.6V735.8M550.2,731.6V735.8M563.0,731.6V735.8M575.7,731.6V738.6M588.5,731.6V735.8M601.2,731.6V735.8M614.0,731.6V735.8M626.7,731.6V735.8M639.5,731.6V738.6" fill="none" stroke="#2b2b2b" stroke-width="1.2"/>
<text transform="translate(374.2,703.2) scale(0.87,1)" text-anchor="end" class="tl">0</text>
<text transform="translate(374.2,659.6) scale(0.87,1)" text-anchor="end" class="tl">0.2</text>
<text transform="translate(374.2,616.1) scale(0.87,1)" text-anchor="end" class="tl">0.4</text>
<text transform="translate(374.2,572.5) scale(0.87,1)" text-anchor="end" class="tl">0.6</text>
<text transform="translate(374.2,529.0) scale(0.87,1)" text-anchor="end" class="tl">0.8</text>
<text transform="translate(374.2,485.4) scale(0.87,1)" text-anchor="end" class="tl">1</text>
<text transform="translate(384.4,751.4) scale(0.87,1)" text-anchor="middle" class="tl">-1</text>
<text transform="translate(448.2,751.4) scale(0.87,1)" text-anchor="middle" class="tl">-0.5</text>
<text transform="translate(511.9,751.4) scale(0.87,1)" text-anchor="middle" class="tl">0</text>
<text transform="translate(575.7,751.4) scale(0.87,1)" text-anchor="middle" class="tl">0.5</text>
<text transform="translate(639.5,751.4) scale(0.87,1)" text-anchor="middle" class="tl">1</text>
<text x="513.6" y="768.9" text-anchor="middle" class="xl">x</text>
<text transform="translate(349.4,594.7) rotate(-90)" text-anchor="middle" class="yl">u<tspan class="sup" dy="-6.5" dx="-0.5">δ</tspan></text>
<text x="337.4" y="466.0" class="pl">(d)</text>
<text x="593.7" y="466.0" class="pt">t/T = 1</text>
<path id="cvd" d="M384.40,699.80L385.68,699.80L386.95,699.80L388.23,699.80L389.50,699.80L390.78,699.80L392.05,699.80L393.33,699.80L394.60,699.80L395.88,699.80L397.15,699.80L398.43,699.80L399.71,699.80L400.98,699.80L402.26,699.80L403.53,699.80L404.81,699.80L406.08,699.80L407.36,699.80L408.63,699.80L409.91,699.80L411.19,699.80L412.46,699.80L413.74,699.80L415.01,699.80L416.29,699.80L417.56,699.80L418.84,699.80L420.11,699.80L421.39,699.80L422.66,699.80L423.94,699.80L425.22,699.80L426.49,699.80L427.77,699.80L429.04,699.80L430.32,699.80L431.59,699.80L432.87,699.80L434.14,699.80L435.42,699.80L436.70,699.80L437.97,699.80L439.25,699.80L440.52,699.80L441.80,699.80L443.07,699.80L444.35,699.80L445.62,699.79L446.90,699.79L448.17,699.79L449.45,699.78L450.73,699.77L452.00,699.76L453.28,699.74L454.55,699.71L455.83,699.67L457.10,699.62L458.38,699.55L459.65,699.46L460.93,699.34L462.21,699.17L463.48,698.96L464.76,698.68L466.03,698.31L467.31,697.84L468.58,697.25L469.86,696.50L471.13,695.56L472.41,694.40L473.68,692.97L474.96,691.23L476.24,689.13L477.51,686.62L478.79,683.64L480.06,680.13L481.34,676.05L482.61,671.34L483.89,665.97L485.16,659.88L486.44,653.06L487.72,645.49L488.99,637.18L490.27,628.16L491.54,618.46L492.82,608.15L494.09,597.34L495.37,586.12L496.64,574.64L497.92,563.06L499.19,551.56L500.47,540.32L501.75,529.54L503.02,519.42L504.30,510.17L505.57,501.97L506.85,495.00L508.12,489.41L509.40,485.33L510.67,482.84L511.95,482.00L513.23,482.84L514.50,485.33L515.78,489.41L517.05,495.00L518.33,501.97L519.60,510.17L520.88,519.42L522.15,529.54L523.43,540.32L524.71,551.56L525.98,563.06L527.26,574.64L528.53,586.12L529.81,597.34L531.08,608.15L532.36,618.46L533.63,628.16L534.91,637.18L536.18,645.49L537.46,653.06L538.74,659.88L540.01,665.97L541.29,671.34L542.56,676.05L543.84,680.13L545.11,683.64L546.39,686.62L547.66,689.13L548.94,691.23L550.22,692.97L551.49,694.40L552.77,695.56L554.04,696.50L555.32,697.25L556.59,697.84L557.87,698.31L559.14,698.68L560.42,698.96L561.69,699.17L562.97,699.34L564.25,699.46L565.52,699.55L566.80,699.62L568.07,699.67L569.35,699.71L570.62,699.74L571.90,699.76L573.17,699.77L574.45,699.78L575.73,699.79L577.00,699.79L578.28,699.79L579.55,699.80L580.83,699.80L582.10,699.80L583.38,699.80L584.65,699.80L585.93,699.80L587.20,699.80L588.48,699.80L589.76,699.80L591.03,699.80L592.31,699.80L593.58,699.80L594.86,699.80L596.13,699.80L597.41,699.80L598.68,699.80L599.96,699.80L601.24,699.80L602.51,699.80L603.79,699.80L605.06,699.80L606.34,699.80L607.61,699.80L608.89,699.80L610.16,699.80L611.44,699.80L612.71,699.80L613.99,699.80L615.27,699.80L616.54,699.80L617.82,699.80L619.09,699.80L620.37,699.80L621.64,699.80L622.92,699.80L624.19,699.80L625.47,699.80L626.75,699.80L628.02,699.80L629.30,699.80L630.57,699.80L631.85,699.80L633.12,699.80L634.40,699.80L635.67,699.80L636.95,699.80L638.22,699.80L639.50,699.80" fill="none"/>
<use href="#cvd" transform="translate(-0.6,0)" stroke="#ff40f0" stroke-width="1.1" opacity="0.9"/>
<use href="#cvd" transform="translate(0.6,0)" stroke="#9040b0" stroke-width="1.0" opacity="0.7"/>
<use href="#cvd" transform="translate(-0.3,0.3)" stroke="#4a5cf0" stroke-width="1.0" opacity="0.9"/>
<use href="#cvd" stroke="#1a1a2a" stroke-width="0.7"/>
<rect x="389.1" y="696.7" width="4.8" height="4.8" fill="#e8261c"/>
<path d="M388.8,701.4L391.5,696.5L394.2,701.4Z" fill="#22c43a"/>
<rect x="397.9" y="697.2" width="4.8" height="4.8" fill="#e8261c"/>
<path d="M397.6,701.9L400.3,697.0L403.0,701.9Z" fill="#22c43a"/>
<rect x="403.6" y="697.6" width="4.8" height="4.8" fill="#e8261c"/>
<path d="M403.3,702.3L406.0,697.4L408.7,702.3Z" fill="#22c43a"/>
<rect x="406.4" y="696.8" width="4.8" height="4.8" fill="#e8261c"/>
<path d="M406.1,701.5L408.8,696.6L411.5,701.5Z" fill="#22c43a"/>
<rect x="412.1" y="696.6" width="4.8" height="4.8" fill="#e8261c"/>
<path d="M411.8,701.3L414.5,696.4L417.2,701.3Z" fill="#22c43a"/>
<rect x="420.9" y="698.1" width="4.8" height="4.8" fill="#e8261c"/>
<path d="M420.6,702.8L423.3,697.9L426.0,702.8Z" fill="#22c43a"/>
<rect x="430.9" y="697.4" width="4.8" height="4.8" fill="#e8261c"/>
<path d="M430.6,702.1L433.3,697.2L436.0,702.1Z" fill="#22c43a"/>
<rect x="439.7" y="696.6" width="4.8" height="4.8" fill="#e8261c"/>
<path d="M439.4,701.3L442.1,696.4L444.8,701.3Z" fill="#22c43a"/>
<rect x="445.4" y="697.1" width="4.8" height="4.8" fill="#e8261c"/>
<path d="M445.1,701.8L447.8,696.9L450.5,701.8Z" fill="#22c43a"/>
<rect x="448.2" y="697.4" width="4.8" height="4.8" fill="#e8261c"/>
<path d="M447.9,702.1L450.6,697.2L453.3,702.1Z" fill="#22c43a"/>
<rect x="453.9" y="698.1" width="4.8" height="4.8" fill="#e8261c"/>
<path d="M453.6,702.8L456.3,697.9L459.0,702.8Z" fill="#22c43a"/>
<rect x="462.7" y="696.6" width="4.8" height="4.8" fill="#e8261c"/>
<path d="M462.4,701.3L465.1,696.4L467.8,701.3Z" fill="#22c43a"/>
<rect x="472.7" y="688.8" width="4.8" height="4.8" fill="#e8261c"/>
<path d="M472.4,693.5L475.1,688.6L477.8,693.5Z" fill="#22c43a"/>
<rect x="481.6" y="665.7" width="4.8" height="4.8" fill="#e8261c"/>
<path d="M481.3,670.4L484.0,665.5L486.7,670.4Z" fill="#22c43a"/>
<rect x="487.2" y="631.2" width="4.8" height="4.8" fill="#e8261c"/>
<path d="M486.9,635.9L489.6,631.0L492.3,635.9Z" fill="#22c43a"/>
<rect x="490.1" y="614.4" width="4.8" height="4.8" fill="#e8261c"/>
<path d="M489.8,619.1L492.5,614.2L495.2,619.1Z" fill="#22c43a"/>
<rect x="495.7" y="562.5" width="4.8" height="4.8" fill="#e8261c"/>
<path d="M495.4,567.2L498.1,562.3L500.8,567.2Z" fill="#22c43a"/>
<rect x="504.6" y="498.7" width="4.8" height="4.8" fill="#e8261c"/>
<path d="M504.3,503.4L507.0,498.5L509.7,503.4Z" fill="#22c43a"/>
<rect x="514.5" y="498.6" width="4.8" height="4.8" fill="#e8261c"/>
<path d="M514.2,503.3L516.9,498.4L519.6,503.3Z" fill="#22c43a"/>
<rect x="523.4" y="563.5" width="4.8" height="4.8" fill="#e8261c"/>
<path d="M523.1,568.2L525.8,563.3L528.5,568.2Z" fill="#22c43a"/>
<rect x="529.0" y="609.9" width="4.8" height="4.8" fill="#e8261c"/>
<path d="M528.7,614.6L531.4,609.7L534.1,614.6Z" fill="#22c43a"/>
<rect x="531.9" y="631.8" width="4.8" height="4.8" fill="#e8261c"/>
<path d="M531.6,636.5L534.3,631.6L537.0,636.5Z" fill="#22c43a"/>
<rect x="537.5" y="665.5" width="4.8" height="4.8" fill="#e8261c"/>
<path d="M537.2,670.2L539.9,665.3L542.6,670.2Z" fill="#22c43a"/>
<rect x="546.4" y="687.9" width="4.8" height="4.8" fill="#e8261c"/>
<path d="M546.1,692.6L548.8,687.7L551.5,692.6Z" fill="#22c43a"/>
<rect x="556.4" y="696.6" width="4.8" height="4.8" fill="#e8261c"/>
<path d="M556.1,701.3L558.8,696.4L561.5,701.3Z" fill="#22c43a"/>
<rect x="565.2" y="697.3" width="4.8" height="4.8" fill="#e8261c"/>
<path d="M564.9,702.0L567.6,697.1L570.3,702.0Z" fill="#22c43a"/>
<rect x="570.9" y="697.5" width="4.8" height="4.8" fill="#e8261c"/>
<path d="M570.6,702.2L573.3,697.3L576.0,702.2Z" fill="#22c43a"/>
<rect x="573.7" y="697.1" width="4.8" height="4.8" fill="#e8261c"/>
<path d="M573.4,701.8L576.1,696.9L578.8,701.8Z" fill="#22c43a"/>
<rect x="579.4" y="697.9" width="4.8" height="4.8" fill="#e8261c"/>
<path d="M579.1,702.6L581.8,697.7L584.5,702.6Z" fill="#22c43a"/>
<rect x="588.2" y="697.7" width="4.8" height="4.8" fill="#e8261c"/>
<path d="M587.9,702.4L590.6,697.5L593.3,702.4Z" fill="#22c43a"/>
<rect x="598.2" y="697.1" width="4.8" height="4.8" fill="#e8261c"/>
<path d="M597.9,701.8L600.6,696.9L603.3,701.8Z" fill="#22c43a"/>
<rect x="607.0" y="696.9" width="4.8" height="4.8" fill="#e8261c"/>
<path d="M606.7,701.6L609.4,696.7L612.1,701.6Z" fill="#22c43a"/>
<rect x="612.7" y="697.4" width="4.8" height="4.8" fill="#e8261c"/>
<path d="M612.4,702.1L615.1,697.2L617.8,702.1Z" fill="#22c43a"/>
<rect x="615.5" y="696.6" width="4.8" height="4.8" fill="#e8261c"/>
<path d="M615.2,701.3L617.9,696.4L620.6,701.3Z" fill="#22c43a"/>
<rect x="621.2" y="696.8" width="4.8" height="4.8" fill="#e8261c"/>
<path d="M620.9,701.5L623.6,696.6L626.3,701.5Z" fill="#22c43a"/>
<rect x="630.0" y="697.9" width="4.8" height="4.8" fill="#e8261c"/>
<path d="M629.7,702.6L632.4,697.7L635.1,702.6Z" fill="#22c43a"/>
<path d="M389.0,697.8L394.6,697.8L391.8,702.8Z" fill="#4a5cf0"/>
<path d="M402.5,697.4L408.1,697.4L405.3,702.4Z" fill="#4a5cf0"/>
<path d="M414.5,697.9L420.1,697.9L417.3,702.9Z" fill="#4a5cf0"/>
<path d="M422.2,697.1L427.8,697.1L425.0,702.1Z" fill="#4a5cf0"/>
<path d="M426.0,698.0L431.6,698.0L428.8,703.0Z" fill="#4a5cf0"/>
<path d="M433.7,697.9L439.3,697.9L436.5,702.9Z" fill="#4a5cf0"/>
<path d="M445.7,698.0L451.3,698.0L448.5,703.0Z" fill="#4a5cf0"/>
<path d="M459.2,697.6L464.8,697.6L462.0,702.6Z" fill="#4a5cf0"/>
<path d="M471.2,689.4L476.8,689.4L474.0,694.4Z" fill="#4a5cf0"/>
<path d="M478.9,671.7L484.5,671.7L481.7,676.7Z" fill="#4a5cf0"/>
<path d="M482.7,656.7L488.3,656.7L485.5,661.7Z" fill="#4a5cf0"/>
<path d="M490.4,603.6L496.0,603.6L493.2,608.6Z" fill="#4a5cf0"/>
<path d="M502.4,508.3L508.0,508.3L505.2,513.3Z" fill="#4a5cf0"/>
<path d="M515.9,507.8L521.5,507.8L518.7,512.8Z" fill="#4a5cf0"/>
<path d="M527.9,606.5L533.5,606.5L530.7,611.5Z" fill="#4a5cf0"/>
<path d="M535.6,659.2L541.2,659.2L538.4,664.2Z" fill="#4a5cf0"/>
<path d="M539.4,673.9L545.0,673.9L542.2,678.9Z" fill="#4a5cf0"/>
<path d="M547.1,689.9L552.7,689.9L549.9,694.9Z" fill="#4a5cf0"/>
<path d="M559.1,696.0L564.7,696.0L561.9,701.0Z" fill="#4a5cf0"/>
<path d="M572.6,697.6L578.2,697.6L575.4,702.6Z" fill="#4a5cf0"/>
<path d="M584.6,696.8L590.2,696.8L587.4,701.8Z" fill="#4a5cf0"/>
<path d="M592.3,698.2L597.9,698.2L595.1,703.2Z" fill="#4a5cf0"/>
<path d="M596.1,697.6L601.7,697.6L598.9,702.6Z" fill="#4a5cf0"/>
<path d="M603.8,697.9L609.4,697.9L606.6,702.9Z" fill="#4a5cf0"/>
<path d="M615.8,696.7L621.4,696.7L618.6,701.7Z" fill="#4a5cf0"/>
<path d="M629.3,697.6L634.9,697.6L632.1,702.6Z" fill="#4a5cf0"/>
<path d="M390.5,696.0L393.8,699.3L390.5,702.6L387.2,699.3Z" fill="#ff3cf0"/>
<path d="M398.5,697.3L401.8,700.6L398.5,703.9L395.2,700.6Z" fill="#ff3cf0"/>
<path d="M405.6,695.8L408.9,699.1L405.6,702.4L402.3,699.1Z" fill="#ff3cf0"/>
<path d="M410.1,696.1L413.4,699.4L410.1,702.7L406.8,699.4Z" fill="#ff3cf0"/>
<path d="M412.4,696.8L415.7,700.1L412.4,703.4L409.1,700.1Z" fill="#ff3cf0"/>
<path d="M416.9,695.7L420.2,699.0L416.9,702.3L413.6,699.0Z" fill="#ff3cf0"/>
<path d="M424.0,696.9L427.3,700.2L424.0,703.5L420.7,700.2Z" fill="#ff3cf0"/>
<path d="M432.0,696.8L435.3,700.1L432.0,703.4L428.7,700.1Z" fill="#ff3cf0"/>
<path d="M439.1,697.4L442.4,700.7L439.1,704.0L435.8,700.7Z" fill="#ff3cf0"/>
<path d="M443.7,695.8L447.0,699.1L443.7,702.4L440.4,699.1Z" fill="#ff3cf0"/>
<path d="M446.0,695.7L449.3,699.0L446.0,702.3L442.7,699.0Z" fill="#ff3cf0"/>
<path d="M450.5,696.9L453.8,700.2L450.5,703.5L447.2,700.2Z" fill="#ff3cf0"/>
<path d="M457.6,695.5L460.9,698.8L457.6,702.1L454.3,698.8Z" fill="#ff3cf0"/>
<path d="M465.6,695.4L468.9,698.7L465.6,702.0L462.3,698.7Z" fill="#ff3cf0"/>
<path d="M472.7,691.1L476.0,694.4L472.7,697.7L469.4,694.4Z" fill="#ff3cf0"/>
<path d="M477.3,683.9L480.6,687.2L477.3,690.5L474.0,687.2Z" fill="#ff3cf0"/>
<path d="M479.5,678.0L482.8,681.3L479.5,684.6L476.2,681.3Z" fill="#ff3cf0"/>
<path d="M484.1,661.5L487.4,664.8L484.1,668.1L480.8,664.8Z" fill="#ff3cf0"/>
<path d="M491.2,621.1L494.5,624.4L491.2,627.7L487.9,624.4Z" fill="#ff3cf0"/>
<path d="M499.2,553.9L502.5,557.2L499.2,560.5L495.9,557.2Z" fill="#ff3cf0"/>
<path d="M506.3,500.9L509.6,504.2L506.3,507.5L503.0,504.2Z" fill="#ff3cf0"/>
<path d="M510.8,486.4L514.1,489.7L510.8,493.0L507.5,489.7Z" fill="#ff3cf0"/>
<path d="M513.1,486.3L516.4,489.6L513.1,492.9L509.8,489.6Z" fill="#ff3cf0"/>
<path d="M517.6,501.5L520.9,504.8L517.6,508.1L514.3,504.8Z" fill="#ff3cf0"/>
<path d="M524.7,550.9L528.0,554.2L524.7,557.5L521.4,554.2Z" fill="#ff3cf0"/>
<path d="M532.7,617.3L536.0,620.6L532.7,623.9L529.4,620.6Z" fill="#ff3cf0"/>
<path d="M539.8,664.5L543.1,667.8L539.8,671.1L536.5,667.8Z" fill="#ff3cf0"/>
<path d="M544.4,679.6L547.7,682.9L544.4,686.2L541.1,682.9Z" fill="#ff3cf0"/>
<path d="M546.6,683.9L549.9,687.2L546.6,690.5L543.3,687.2Z" fill="#ff3cf0"/>
<path d="M551.2,691.5L554.5,694.8L551.2,698.1L547.9,694.8Z" fill="#ff3cf0"/>
<path d="M558.3,695.0L561.6,698.3L558.3,701.6L555.0,698.3Z" fill="#ff3cf0"/>
<path d="M566.3,695.9L569.6,699.2L566.3,702.5L563.0,699.2Z" fill="#ff3cf0"/>
<path d="M573.4,696.2L576.7,699.5L573.4,702.8L570.1,699.5Z" fill="#ff3cf0"/>
<path d="M577.9,695.9L581.2,699.2L577.9,702.5L574.6,699.2Z" fill="#ff3cf0"/>
<path d="M580.2,696.4L583.5,699.7L580.2,703.0L576.9,699.7Z" fill="#ff3cf0"/>
<path d="M584.8,696.1L588.1,699.4L584.8,702.7L581.5,699.4Z" fill="#ff3cf0"/>
<path d="M591.9,696.9L595.2,700.2L591.9,703.5L588.6,700.2Z" fill="#ff3cf0"/>
<path d="M599.9,697.1L603.2,700.4L599.9,703.7L596.6,700.4Z" fill="#ff3cf0"/>
<path d="M607.0,696.4L610.3,699.7L607.0,703.0L603.7,699.7Z" fill="#ff3cf0"/>
<path d="M611.5,696.7L614.8,700.0L611.5,703.3L608.2,700.0Z" fill="#ff3cf0"/>
<path d="M613.8,696.5L617.1,699.8L613.8,703.1L610.5,699.8Z" fill="#ff3cf0"/>
<path d="M618.3,696.0L621.6,699.3L618.3,702.6L615.0,699.3Z" fill="#ff3cf0"/>
<path d="M625.4,695.6L628.7,698.9L625.4,702.2L622.1,698.9Z" fill="#ff3cf0"/>
<path d="M633.4,696.5L636.7,699.8L633.4,703.1L630.1,699.8Z" fill="#ff3cf0"/>
<line x1="544.4" y1="520.9" x2="586.4" y2="520.9" stroke="#333" stroke-width="1" stroke-dasharray="1.5,0.8"/>
<text x="592.9" y="523.7" class="lg">Exact</text>
<text x="592.9" y="534.7" class="lg">DG via FR</text>
<text x="592.9" y="545.7" class="lg">OESFR</text>
<text x="592.9" y="556.7" class="lg">OFR</text>
<text x="592.9" y="567.7" class="lg">c<tspan class="sub" dy="2">+</tspan><tspan dy="-2"> via ESFR</tspan></text>
<rect x="562.5" y="529.0" width="5.8" height="5.8" fill="#e8261c"/>
<path d="M562.4,545.3L565.4,540.2L568.4,545.3Z" fill="#22c43a"/>
<path d="M562.4,551.5L568.4,551.5L565.4,556.6Z" fill="#4a5cf0"/>
<path d="M565.4,561.5L568.8,564.9L565.4,568.3L562.0,564.9Z" fill="#ff3cf0"/>
</svg>
<div id="redband" class="abs"><div id="title" class="abs">Optimal Flux Reconstruction (OFR)</div></div>
<svg class="abs" style="left:989.7px;top:4.7px" width="86" height="86" viewBox="0 0 86 86"><circle cx="43" cy="43" r="39.3" fill="#fbfbfb" stroke="#9a9a9a" stroke-width="0.9"/><circle cx="43" cy="43" r="37.2" fill="none" stroke="#8a8a8a" stroke-width="2.6" stroke-dasharray="1.1,1.0"/><circle cx="43" cy="43" r="38.6" fill="none" stroke="#a0a0a0" stroke-width="0.5"/><circle cx="43" cy="43" r="35.6" fill="none" stroke="#a0a0a0" stroke-width="0.5"/><circle cx="43" cy="43" r="27.4" fill="none" stroke="#7a7a7a" stroke-width="0.7"/><circle cx="43" cy="43" r="26.5" fill="none" stroke="#b0b0b0" stroke-width="0.4"/><path id="sealtp" d="M14.83,54.96 A30.6,30.6 0 1 1 71.17,54.96" fill="none"/><text font-family="Liberation Serif, serif" font-size="6.6" fill="#4a4a4a" stroke="#4a4a4a" stroke-width="0.12"><textPath href="#sealtp" textLength="124" lengthAdjust="spacingAndGlyphs">LELAND STANFORD JUNIOR UNIVERSITY</textPath></text><path id="sealtp2" d="M20.55,46.96 A22.8,22.8 0 1 1 65.45,46.96" fill="none"/><text font-family="Liberation Serif, serif" font-size="3.8" fill="#555" stroke="#555" stroke-width="0.1" letter-spacing="0.6"><textPath href="#sealtp2" startOffset="50%" text-anchor="middle">DIE LUFT DER      FREIHEIT WEHT</textPath></text><path d="M18.5,57 Q26,52 33,55 Q40,52 47,54 Q56,51 66,56 L67.5,60 Q60,68 43,70 Q26,68 18.5,60 Z" fill="#ececec"/><path d="M19.0,56.5 Q30,53.5 43,57.0 Q56,53.5 67.0,56.5" fill="none" stroke="#9a9a9a" stroke-width="0.45"/><path d="M20.2,58.5 Q30,55.5 43,59.0 Q56,55.5 65.8,58.5" fill="none" stroke="#9a9a9a" stroke-width="0.45"/><path d="M21.4,60.5 Q30,57.5 43,61.0 Q56,57.5 64.6,60.5" fill="none" stroke="#9a9a9a" stroke-width="0.45"/><path d="M22.6,62.5 Q30,59.5 43,63.0 Q56,59.5 63.4,62.5" fill="none" stroke="#9a9a9a" stroke-width="0.45"/><path d="M33,66 Q43,58 53,66 Q43,69 33,66 Z" fill="#8a8a8a"/><path d="M41.9,24 L41.2,64 L43.9,64 L43.0,24 Z" fill="#6a6a6a"/><path d="M43.0,18.9 Q41.4,19.3 40.4,22.9 Q41.3,21.4 42.699999999999996,21.9 Z" fill="#5e5e5e"/><path d="M41.8,19.5 Q43.5,19.7 44.6,23.1 Q43.61,21.6 42.1,22.3 Z" fill="#686868"/><path d="M43.0,21.9 Q40.6,22.3 38.8,25.9 Q40.42,24.4 42.699999999999996,24.9 Z" fill="#5e5e5e"/><path d="M41.8,22.5 Q44.3,22.7 46.199999999999996,26.1 Q44.489999999999995,24.6 42.1,25.3 Z" fill="#686868"/><path d="M43.0,24.9 Q39.8,25.3 37.199999999999996,28.9 Q39.54,27.4 42.699999999999996,27.9 Z" fill="#5e5e5e"/><path d="M41.8,25.5 Q44.699999999999996,25.7 47.0,29.1 Q44.93,27.6 42.1,28.3 Z" fill="#686868"/><path d="M43.0,27.9 Q39.3,28.3 36.199999999999996,31.9 Q38.989999999999995,30.4 42.699999999999996,30.9 Z" fill="#5e5e5e"/><path d="M41.8,28.5 Q45.6,28.7 48.8,32.1 Q45.92,30.6 42.1,31.3 Z" fill="#686868"/><path d="M43.0,30.9 Q38.6,31.3 34.8,34.9 Q38.22,33.4 42.699999999999996,33.9 Z" fill="#5e5e5e"/><path d="M41.8,31.5 Q45.9,31.7 49.4,35.1 Q46.25,33.6 42.1,34.3 Z" fill="#686868"/><path d="M43.0,33.9 Q38.0,34.3 33.599999999999994,37.9 Q37.559999999999995,36.4 42.699999999999996,36.9 Z" fill="#5e5e5e"/><path d="M41.8,34.5 Q46.6,34.7 50.8,38.1 Q47.019999999999996,36.6 42.1,37.3 Z" fill="#686868"/><path d="M43.0,36.9 Q37.3,37.3 32.2,40.9 Q36.79,39.4 42.699999999999996,39.9 Z" fill="#5e5e5e"/><path d="M41.8,37.5 Q47.0,37.7 51.599999999999994,41.1 Q47.46,39.6 42.1,40.3 Z" fill="#686868"/><path d="M43.0,39.9 Q36.699999999999996,40.3 31.0,43.9 Q36.129999999999995,42.4 42.699999999999996,42.9 Z" fill="#5e5e5e"/><path d="M41.8,40.5 Q47.4,40.7 52.4,44.1 Q47.9,42.6 42.1,43.3 Z" fill="#686868"/><path d="M43.0,42.9 Q36.4,43.3 30.4,46.9 Q35.8,45.4 42.699999999999996,45.9 Z" fill="#5e5e5e"/><path d="M41.8,43.5 Q47.5,43.7 52.599999999999994,47.1 Q48.01,45.6 42.1,46.3 Z" fill="#686868"/><path d="M43.0,45.9 Q37.15,46.3 31.9,49.9 Q36.625,48.4 42.699999999999996,48.9 Z" fill="#5e5e5e"/><path d="M41.8,46.5 Q46.9,46.7 51.4,50.1 Q47.35,48.6 42.1,49.3 Z" fill="#686868"/><path d="M43.0,48.9 Q38.65,49.3 34.9,52.9 Q38.275,51.4 42.699999999999996,51.9 Z" fill="#5e5e5e"/><path d="M41.8,49.5 Q45.65,49.7 48.9,53.1 Q45.975,51.6 42.1,52.3 Z" fill="#686868"/><path d="M42.4,18.8 L41.1,23 L43.699999999999996,23 Z" fill="#5e5e5e"/><polygon points="17.00,61.30 17.44,62.39 18.62,62.47 17.71,63.23 18.00,64.38 17.00,63.75 16.00,64.38 16.29,63.23 15.38,62.47 16.56,62.39" fill="#666"/><polygon points="20.70,65.30 21.14,66.39 22.32,66.47 21.41,67.23 21.70,68.38 20.70,67.75 19.70,68.38 19.99,67.23 19.08,66.47 20.26,66.39" fill="#666"/><polygon points="24.70,68.30 25.14,69.39 26.32,69.47 25.41,70.23 25.70,71.38 24.70,70.75 23.70,71.38 23.99,70.23 23.08,69.47 24.26,69.39" fill="#666"/><polygon points="61.30,68.30 61.74,69.39 62.92,69.47 62.01,70.23 62.30,71.38 61.30,70.75 60.30,71.38 60.59,70.23 59.68,69.47 60.86,69.39" fill="#666"/><polygon points="65.30,65.30 65.74,66.39 66.92,66.47 66.01,67.23 66.30,68.38 65.30,67.75 64.30,68.38 64.59,67.23 63.68,66.47 64.86,66.39" fill="#666"/><polygon points="69.00,61.30 69.44,62.39 70.62,62.47 69.71,63.23 70.00,64.38 69.00,63.75 68.00,64.38 68.29,63.23 67.38,62.47 68.56,62.39" fill="#666"/><text x="43" y="78" text-anchor="middle" font-family="Liberation Serif, serif" font-size="6.4" fill="#555" stroke="#555" stroke-width="0.12">1891</text></svg>
<div id="box1" class="abs"><div class="t"><span style="letter-spacing:1.9px;word-spacing:11.4px">Advection of a Gaussian</span><br>bump, P = 5<br>- DG, OESFR: 61 elements<br>- OFR: 45 elements<br>- c+: 76 elements</div></div>
<div id="box2o" class="abs"></div>
<div id="box2" class="abs"><div class="t"><b>OESFR</b> - optimized by varying <i>c</i><br><b>OFR</b> - optimized by modifying<br>zeros of correction function</div></div>
<div id="cite" class="abs"><div class="t">Asthana et al. (2014) J. Comput. Phys.</div></div>
<svg class="abs" style="left:0;top:0" width="1080" height="810" viewBox="0 0 1080 810">
<g opacity="0.92">
<ellipse cx="909.6" cy="756.5" rx="14.2" ry="12.6" fill="#fff" stroke="#bdbdbd" stroke-width="0.6"/>
<path d="M897.5,765 L897,772 L904,768 Z" fill="#fff" stroke="#bdbdbd" stroke-width="0.5"/>
<ellipse cx="923.7" cy="765.2" rx="12.8" ry="11" fill="#fff" stroke="#9a9a9a" stroke-width="0.7"/>
<path d="M929,774 L933.5,778.5 L932,771 Z" fill="#fff" stroke="#9a9a9a" stroke-width="0.5"/>
<circle cx="904" cy="751" r="1.1" fill="none" stroke="#aaa" stroke-width="0.5"/>
<circle cx="915.5" cy="751" r="1.1" fill="none" stroke="#aaa" stroke-width="0.5"/>
<circle cx="918.5" cy="761.8" r="1.1" fill="#6a7a90"/>
<circle cx="927.8" cy="761.8" r="1.1" fill="#6a7a90"/>
<text x="940" y="776" font-family="Liberation Sans, sans-serif" font-weight="bold" font-size="31" fill="#fff" fill-opacity="0.88" stroke="#bbb" stroke-width="0.5" letter-spacing="-1.5">cfd</text>
<path d="M998,758 L1012,758 L997,776 L1022,776 M1003,752 L1006,756" fill="none" stroke="#fff" stroke-width="2.6" opacity="0.85"/>
<path d="M998,758 L1012,758 L997,776 L1022,776" fill="none" stroke="#b8b8b8" stroke-width="0.5"/>
<rect x="1030" y="755" width="11" height="15" fill="#fff" fill-opacity="0.75" stroke="#b8b8b8" stroke-width="0.5"/>
<path d="M1024,758 L1026,772 L1045,774 M1031,759 H1040 M1031,763 H1040 M1031,767 H1040 M1033,750 L1035,754 M1040,750 L1038,754" fill="none" stroke="#aaa" stroke-width="0.6"/>
</g>
</svg>
<div id="botl" class="abs"></div>
<div id="botr" class="abs"></div>
<div id="pgnum" class="abs">57</div>
<div id="author" class="abs">A. Jameson</div>
<div id="lecture" class="abs">Stillwell Memorial Lecture, April 20, 2016</div>
</body></html>
